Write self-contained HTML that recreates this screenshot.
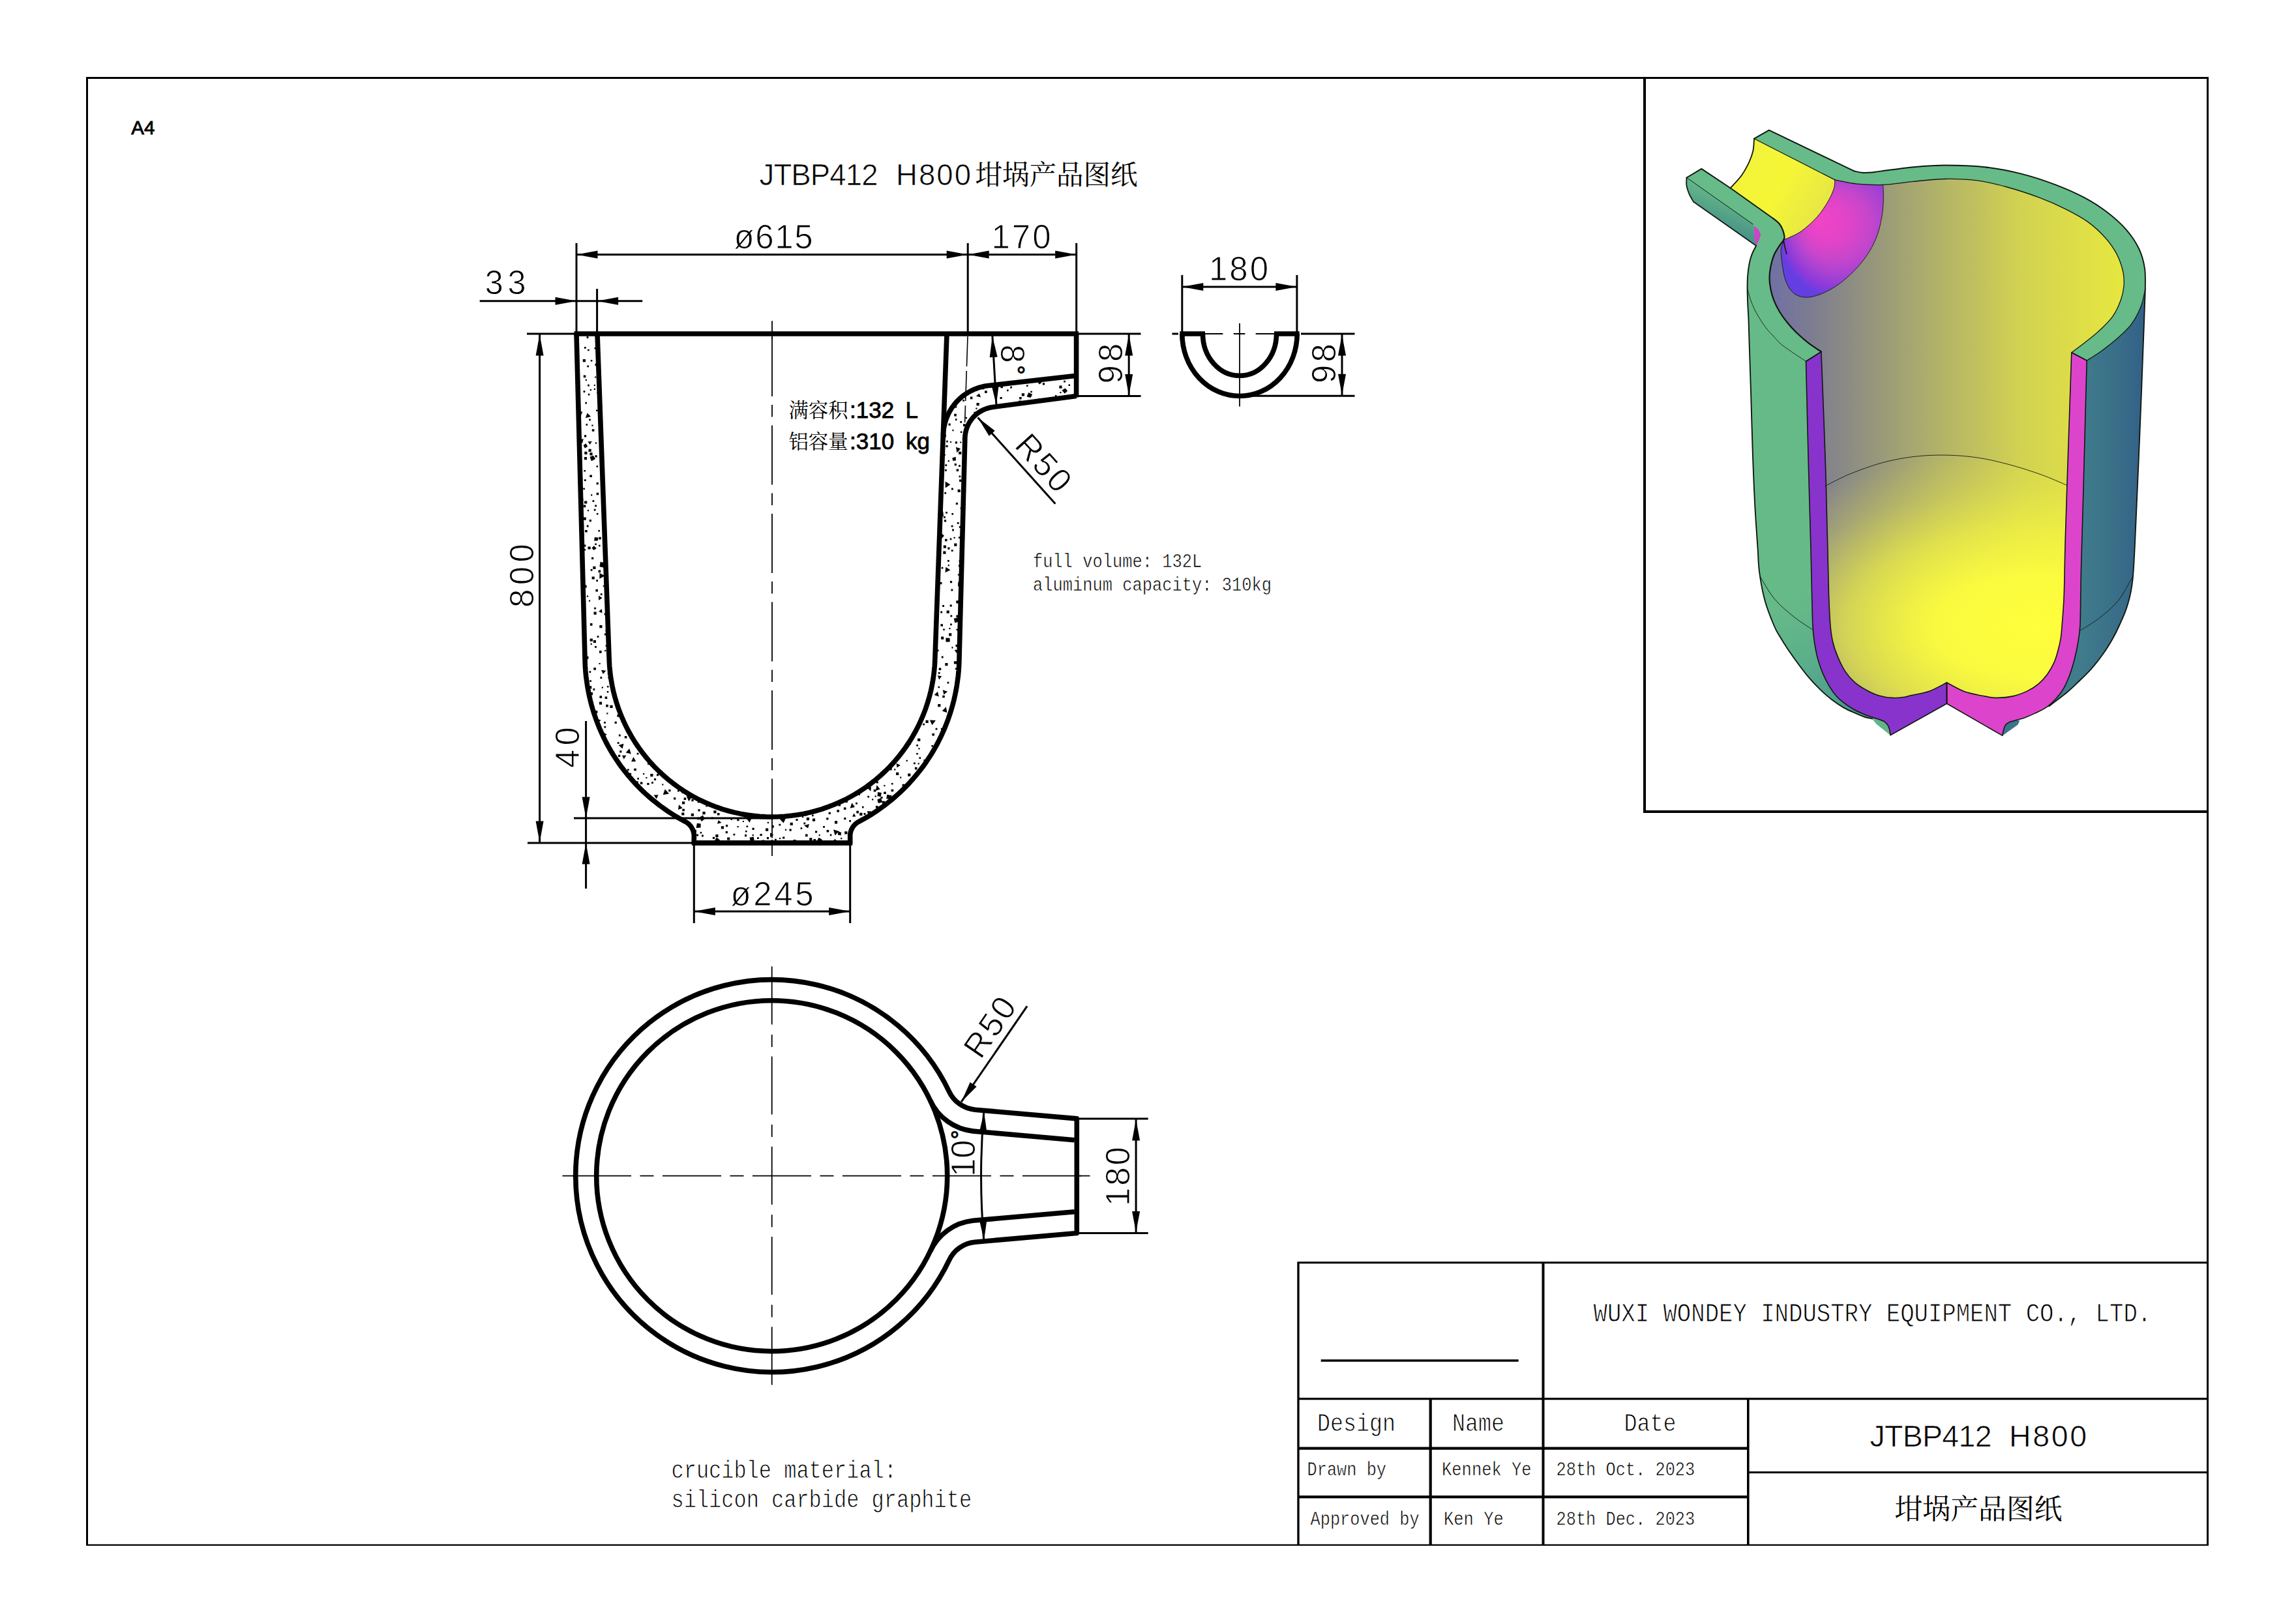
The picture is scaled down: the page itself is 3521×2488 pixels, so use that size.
<!DOCTYPE html>
<html lang="zh"><head><meta charset="utf-8"><title>JTBP412 H800 坩埚产品图纸</title>
<style>html,body{margin:0;padding:0;background:#fff}svg{display:block}text{fill:#000}</style></head>
<body><svg width="3521" height="2488" viewBox="0 0 3521 2488">
<rect width="3521" height="2488" fill="#fff"/>
<defs>
<linearGradient id="gCav" gradientUnits="userSpaceOnUse" x1="2710" y1="0" x2="3250" y2="0"><stop offset="0" stop-color="#6f6fa6"/><stop offset="0.12" stop-color="#7c7c92"/><stop offset="0.3" stop-color="#96967c"/><stop offset="0.5" stop-color="#b4b468"/><stop offset="0.72" stop-color="#d2d252"/><stop offset="1" stop-color="#e6e640"/></linearGradient>
<radialGradient id="gBot" gradientUnits="userSpaceOnUse" cx="0" cy="0" r="1" gradientTransform="translate(3118 960) scale(520 270)"><stop offset="0" stop-color="#ffff3c"/><stop offset="0.3" stop-color="#fcfc3e" stop-opacity="0.95"/><stop offset="0.55" stop-color="#f6f640" stop-opacity="0.68"/><stop offset="0.8" stop-color="#f0f044" stop-opacity="0.25"/><stop offset="1" stop-color="#eeee44" stop-opacity="0"/></radialGradient>
<linearGradient id="gBlue" gradientUnits="userSpaceOnUse" x1="3190" y1="0" x2="3290" y2="0"><stop offset="0" stop-color="#407c8c"/><stop offset="0.5" stop-color="#3a7088"/><stop offset="1" stop-color="#336088"/></linearGradient>
<radialGradient id="gMag" gradientUnits="userSpaceOnUse" cx="2838" cy="352" r="112" fx="2788" fy="337"><stop offset="0" stop-color="#f244c6"/><stop offset="0.3" stop-color="#e044c8"/><stop offset="0.5" stop-color="#c446cc"/><stop offset="0.68" stop-color="#a642d2"/><stop offset="0.85" stop-color="#8a3adc"/><stop offset="1" stop-color="#643ee0"/></radialGradient>
<linearGradient id="gSp" gradientUnits="userSpaceOnUse" x1="2640" y1="290" x2="2620" y2="340"><stop offset="0" stop-color="#66bb88"/><stop offset="1" stop-color="#4a9488"/></linearGradient>
<linearGradient id="gYel" gradientUnits="userSpaceOnUse" x1="2680" y1="230" x2="2800" y2="300"><stop offset="0" stop-color="#f2f23c"/><stop offset="0.5" stop-color="#f6f636"/><stop offset="1" stop-color="#e8e844"/></linearGradient>
<linearGradient id="gGL" gradientUnits="userSpaceOnUse" x1="2720" y1="930" x2="2800" y2="1110"><stop offset="0" stop-color="#66ba88"/><stop offset="0.45" stop-color="#5cb08a"/><stop offset="1" stop-color="#4a988e"/></linearGradient>
</defs>
<g stroke="none">
<path d="M3200.2 553 C3203.7 550.8 3213.6 545 3221.2 539.5 C3228.8 534 3238.1 527 3245.9 520.1 C3253.7 513.2 3261.9 506.1 3268.1 497.9 C3274.3 489.7 3279.3 479.8 3282.9 470.8 C3286.5 461.8 3288.7 448.2 3289.8 443.7 L3287.8 500 C3286.8 525 3284.1 600 3282 650 C3279.9 700 3277.4 760.1 3275.5 800 C3273.6 839.9 3272.8 867.6 3270.5 889.3 C3268.2 911 3265.5 918.2 3262 930 C3258.5 941.8 3253.4 951.7 3249.7 960 C3246 968.3 3243.9 972.5 3239.8 979.7 C3235.7 986.9 3230.6 995.4 3225 1003.2 C3219.4 1011 3213.1 1019.2 3206.5 1026.6 C3199.9 1034 3191.7 1041.6 3185.5 1047.6 C3179.3 1053.6 3174.8 1057.9 3169.5 1062.4 C3164.2 1066.9 3158 1071.2 3153.5 1074.7 C3149 1078.2 3144.2 1081.9 3142.4 1083.3 L3138.7 1084.6 C3141.2 1082.3 3149.2 1075.7 3153.5 1071 C3157.8 1066.3 3161.1 1062.4 3164.6 1056.2 C3168.1 1050 3171.5 1041.8 3174.4 1034 C3177.3 1026.2 3179.7 1017.5 3181.8 1009.3 C3183.9 1001.1 3185.5 992.9 3186.8 984.7 C3188.2 976.5 3189.2 971.8 3189.9 960 C3190.6 948.2 3190.5 929 3190.8 914 C3191.1 899 3190.9 897.3 3191.6 870 C3192.3 842.7 3193.6 802.8 3195 750 C3196.4 697.2 3199.3 585.8 3200.2 553Z" fill="url(#gBlue)"/>
<path d="M2693.2 376.9 C2692.2 378.9 2688.8 384.7 2687 389.2 C2685.2 393.7 2683.8 398.4 2682.7 404 C2681.6 409.6 2680.7 416.3 2680.2 422.5 C2679.7 428.7 2679.6 433.8 2679.6 441 C2679.6 448.2 2679.9 457.5 2680.2 465.7 C2680.5 473.9 2681.1 479.6 2681.5 490.3 C2681.9 501 2682.1 511.7 2682.7 530 C2683.3 548.3 2684.1 571.7 2685 600 C2685.9 628.3 2686.9 670 2688 700 C2689.1 730 2690.2 756.7 2691.5 780 C2692.8 803.3 2694.4 823.8 2695.5 840 C2696.6 856.2 2696.2 863.4 2698 877 C2699.8 890.6 2702.8 907.6 2706.6 921.4 C2710.4 935.2 2716.9 950.9 2720.7 960 C2724.5 969.1 2725.8 970 2729.3 976 C2732.8 982 2737.2 989 2741.7 995.8 C2746.2 1002.6 2751.2 1009.5 2756.5 1016.7 C2761.8 1023.9 2767.9 1032.1 2773.7 1038.9 C2779.4 1045.7 2785 1051.6 2791 1057.4 C2797 1063.2 2803.3 1068.8 2809.5 1073.5 C2815.7 1078.2 2821.8 1082.3 2828 1085.8 C2834.2 1089.3 2841.2 1092 2846.5 1094.4 C2851.8 1096.8 2856 1098.7 2860.1 1100 C2864.2 1101.3 2869.3 1102.1 2871.2 1102.5 L2882.3 1103.7 C2880.7 1103.2 2876.3 1101.9 2872.4 1100.6 C2868.5 1099.3 2863.7 1097.8 2858.8 1095.7 C2853.9 1093.7 2847.9 1091.2 2842.8 1088.3 C2837.7 1085.4 2832.5 1081.9 2828 1078.4 C2823.5 1074.9 2819.6 1071.8 2815.7 1067.3 C2811.8 1062.8 2808.1 1057.3 2804.6 1051.3 C2801.1 1045.3 2797.6 1038.5 2794.7 1031.5 C2791.8 1024.5 2789.4 1017.1 2787.3 1009.3 C2785.2 1001.5 2783.6 992.9 2782.4 984.7 C2781.2 976.5 2780.5 971.8 2779.9 960 C2779.3 948.2 2779.1 934 2778.6 914 C2778.1 894 2777.8 875.7 2776.9 840 C2776 804.3 2774.2 747.6 2773 700 C2771.8 652.4 2770.1 578.6 2769.5 554.3 L2769.5 554.3 C2763.6 550.2 2742.1 536.4 2733.9 530 C2725.7 523.6 2724.6 520.8 2720.3 516.2 C2716 511.7 2712.3 508.4 2708 502.7 C2703.7 496.9 2698.1 488.3 2694.4 481.7 C2690.7 475.1 2688.2 469.4 2685.8 463.2 C2683.4 457 2681.2 448.4 2680.2 444.7 C2679.2 441 2679.7 441.6 2679.6 441Z" fill="url(#gGL)"/>
<path d="M2736.3 365.8 C2735.1 367.6 2731.6 372.6 2728.9 376.9 C2726.2 381.2 2722.6 386.4 2720.3 391.7 C2718.1 397 2716.5 403.1 2715.4 408.9 C2714.3 414.6 2713.5 420.4 2713.5 426.2 C2713.5 432 2714.3 437.8 2715.4 443.5 C2716.5 449.2 2718.1 454.9 2720.3 460.7 C2722.6 466.4 2725.4 472.2 2728.9 478 C2732.4 483.8 2736.8 489.8 2741.3 495.3 C2745.8 500.9 2750.8 506.2 2756.1 511.3 C2761.4 516.4 2767.2 521.4 2773.3 526.1 C2779.4 530.8 2789.6 537.3 2792.9 539.5 L2799.1 745.4 L2802 800 L3167.5 800 L3169.4 744.2 L3176.8 540.7 C3180.1 538.2 3189.5 531.5 3196.5 526 C3203.5 520.5 3211.5 514.5 3218.7 507.8 C3225.9 501.1 3234.1 493.4 3239.7 485.6 C3245.2 477.8 3249.1 468.7 3252 460.9 C3254.9 453.1 3256.4 446.1 3257 438.7 C3257.6 431.3 3257.5 424.7 3255.7 416.5 C3253.8 408.3 3250.4 398 3245.9 389.4 C3241.4 380.8 3236 372.9 3228.6 364.7 C3221.2 356.5 3211.8 347.5 3201.5 340.1 C3191.2 332.7 3179.2 326.5 3166.9 320.3 C3154.6 314.1 3142.3 308.7 3127.5 303.1 C3112.7 297.6 3093.7 291.3 3078.1 287 C3062.5 282.7 3049.4 279.3 3033.7 277.2 C3018 275.1 3000.5 274.3 2984 274.5 C2967.5 274.7 2950.7 276.9 2934.7 278.4 C2918.7 279.9 2902.2 282.7 2887.8 283.3 C2873.4 283.9 2860.6 283.3 2848.3 282.1 C2836 280.9 2819.6 276.9 2813.8 275.9 L2736.3 365.8Z" fill="url(#gCav)"/>
<path d="M2799.1 745.4 C2805.5 742.3 2822.7 732.8 2837.3 726.9 C2851.9 721 2870.2 714.1 2886.7 709.7 C2903.1 705.3 2919.6 702.2 2936 700.3 C2952.4 698.4 2968.9 697.8 2985.3 698.1 C3001.8 698.4 3018.2 699.8 3034.7 702.3 C3051.1 704.8 3068.1 709.1 3084 713.4 C3099.9 717.7 3115.8 722.9 3130 728 C3144.2 733.1 3162.8 741.5 3169.4 744.2 L3166.9 840 C3166.6 852.3 3166 894 3165.2 914 C3164.4 934 3162.9 949.2 3162.1 960 C3161.3 970.8 3161.3 972.1 3160.3 978.5 C3159.3 984.9 3157.7 991.8 3155.9 998.2 C3154.2 1004.6 3152.5 1010.7 3149.8 1016.7 C3147.1 1022.7 3143.8 1028.7 3139.9 1034 C3136 1039.3 3131.4 1044.5 3126.3 1048.8 C3121.2 1053.1 3115.7 1056.7 3109.1 1059.9 C3102.5 1063.1 3094.7 1066.2 3086.9 1067.9 C3079.1 1069.7 3070 1070.5 3062.2 1070.4 C3054.4 1070.3 3048.4 1069 3040 1067.3 C3031.6 1065.6 3021.1 1063.9 3012 1060.5 C3002.9 1057.1 2989.9 1049.2 2985.5 1047 L2958 1060.5 C2953.3 1061.5 2936.2 1065.2 2930 1066.7 C2923.8 1068.2 2925.2 1068.6 2920.5 1069.2 C2915.8 1069.8 2908.4 1070.7 2902 1070.4 C2895.6 1070.1 2888.9 1069.2 2882.3 1067.3 C2875.7 1065.3 2868.9 1062.2 2862.5 1058.7 C2856.1 1055.2 2849.6 1051.2 2844 1046.3 C2838.4 1041.4 2833.5 1035.7 2829.2 1029.1 C2824.9 1022.5 2821.2 1014.3 2818.1 1006.9 C2815 999.5 2812.5 992.5 2810.7 984.7 C2808.8 976.9 2808 971.8 2807 960 C2806 948.2 2805.3 934 2804.6 914 C2803.9 894 2803.1 852.3 2802.8 840Z" fill="url(#gCav)"/>
<path d="M2799.1 745.4 C2805.5 742.3 2822.7 732.8 2837.3 726.9 C2851.9 721 2870.2 714.1 2886.7 709.7 C2903.1 705.3 2919.6 702.2 2936 700.3 C2952.4 698.4 2968.9 697.8 2985.3 698.1 C3001.8 698.4 3018.2 699.8 3034.7 702.3 C3051.1 704.8 3068.1 709.1 3084 713.4 C3099.9 717.7 3115.8 722.9 3130 728 C3144.2 733.1 3162.8 741.5 3169.4 744.2 L3166.9 840 C3166.6 852.3 3166 894 3165.2 914 C3164.4 934 3162.9 949.2 3162.1 960 C3161.3 970.8 3161.3 972.1 3160.3 978.5 C3159.3 984.9 3157.7 991.8 3155.9 998.2 C3154.2 1004.6 3152.5 1010.7 3149.8 1016.7 C3147.1 1022.7 3143.8 1028.7 3139.9 1034 C3136 1039.3 3131.4 1044.5 3126.3 1048.8 C3121.2 1053.1 3115.7 1056.7 3109.1 1059.9 C3102.5 1063.1 3094.7 1066.2 3086.9 1067.9 C3079.1 1069.7 3070 1070.5 3062.2 1070.4 C3054.4 1070.3 3048.4 1069 3040 1067.3 C3031.6 1065.6 3021.1 1063.9 3012 1060.5 C3002.9 1057.1 2989.9 1049.2 2985.5 1047 L2958 1060.5 C2953.3 1061.5 2936.2 1065.2 2930 1066.7 C2923.8 1068.2 2925.2 1068.6 2920.5 1069.2 C2915.8 1069.8 2908.4 1070.7 2902 1070.4 C2895.6 1070.1 2888.9 1069.2 2882.3 1067.3 C2875.7 1065.3 2868.9 1062.2 2862.5 1058.7 C2856.1 1055.2 2849.6 1051.2 2844 1046.3 C2838.4 1041.4 2833.5 1035.7 2829.2 1029.1 C2824.9 1022.5 2821.2 1014.3 2818.1 1006.9 C2815 999.5 2812.5 992.5 2810.7 984.7 C2808.8 976.9 2808 971.8 2807 960 C2806 948.2 2805.3 934 2804.6 914 C2803.9 894 2803.1 852.3 2802.8 840Z" fill="url(#gBot)"/>
<path d="M2843.4 262.4 C2845.4 262.8 2851.3 264.4 2855.7 264.8 C2860.1 265.2 2865.1 264.9 2870 264.5 C2874.9 264.1 2874.5 263.8 2885.3 262.4 C2896.1 261 2918.2 257.7 2934.7 256.2 C2951.1 254.7 2965.8 253.5 2984 253.5 C3002.2 253.5 3024.6 254.1 3043.6 256.2 C3062.6 258.3 3079.8 261.6 3097.9 266.1 C3116 270.6 3135.7 277.1 3152.1 283.3 C3168.5 289.5 3183.3 296.1 3196.5 303.1 C3209.7 310.1 3220.4 317.1 3231.1 325.3 C3241.8 333.5 3252.5 342.9 3260.7 352.4 C3268.9 361.8 3275.7 372.1 3280.4 382 C3285.1 391.9 3287.4 401.3 3289 411.6 C3290.6 421.9 3289.7 438.4 3289.8 443.7 L3282.9 470.8 C3280.4 475.3 3274.3 489.7 3268.1 497.9 C3261.9 506.1 3253.7 513.2 3245.9 520.1 C3238.1 527 3228.8 534 3221.2 539.5 C3213.6 545 3203.7 550.8 3200.2 553 L3176.8 540.7 C3180.1 538.2 3189.5 531.5 3196.5 526 C3203.5 520.5 3211.5 514.5 3218.7 507.8 C3225.9 501.1 3234.1 493.4 3239.7 485.6 C3245.2 477.8 3249.1 468.7 3252 460.9 C3254.9 453.1 3256.4 446.1 3257 438.7 C3257.6 431.3 3257.5 424.7 3255.7 416.5 C3253.8 408.3 3250.4 398 3245.9 389.4 C3241.4 380.8 3236 372.9 3228.6 364.7 C3221.2 356.5 3211.8 347.5 3201.5 340.1 C3191.2 332.7 3179.2 326.5 3166.9 320.3 C3154.6 314.1 3142.3 308.7 3127.5 303.1 C3112.7 297.6 3093.7 291.3 3078.1 287 C3062.5 282.7 3049.4 279.3 3033.7 277.2 C3018 275.1 3000.5 274.3 2984 274.5 C2967.5 274.7 2950.7 276.9 2934.7 278.4 C2918.7 279.9 2902.2 282.7 2887.8 283.3 C2873.4 283.9 2860.6 283.3 2848.3 282.1 C2836 280.9 2819.6 276.9 2813.8 275.9Z" fill="#66bb88"/>
<path d="M2679.6 441 C2679.7 441.6 2679.2 441 2680.2 444.7 C2681.2 448.4 2683.4 457 2685.8 463.2 C2688.2 469.4 2690.7 475.1 2694.4 481.7 C2698.1 488.3 2703.7 496.9 2708 502.7 C2712.3 508.4 2716 511.7 2720.3 516.2 C2724.6 520.8 2725.7 523.6 2733.9 530 C2742.1 536.4 2763.6 550.2 2769.5 554.3 L2792.9 539.5 C2789.6 537.3 2779.4 530.8 2773.3 526.1 C2767.2 521.4 2761.4 516.4 2756.1 511.3 C2750.8 506.2 2745.8 500.9 2741.3 495.3 C2736.8 489.8 2732.4 483.8 2728.9 478 C2725.4 472.2 2722.6 466.4 2720.3 460.7 C2718.1 454.9 2716.5 449.2 2715.4 443.5 C2714.3 437.8 2713.5 432 2713.5 426.2 C2713.5 420.4 2714.3 414.6 2715.4 408.9 C2716.5 403.1 2718.1 397 2720.3 391.7 C2722.6 386.4 2726.2 381.2 2728.9 376.9 C2731.6 372.6 2735.5 369.8 2736.3 365.8 C2737.2 361.8 2735.3 356.8 2734 353 C2732.7 349.2 2731 346 2728.5 343 C2726 340 2720.7 336.3 2719.1 335 L2693.2 376.9 L2687 389.2 C2686.3 391.7 2683.8 398.4 2682.7 404 C2681.6 409.6 2680.7 416.3 2680.2 422.5 C2679.7 428.7 2679.7 437.9 2679.6 441Z" fill="#66bb88"/>
<path d="M2769.5 554.3 C2770.1 578.6 2771.8 652.4 2773 700 C2774.2 747.6 2776 804.3 2776.9 840 C2777.8 875.7 2778.1 894 2778.6 914 C2779.1 934 2779.3 948.2 2779.9 960 C2780.5 971.8 2781.2 976.5 2782.4 984.7 C2783.6 992.9 2785.2 1001.5 2787.3 1009.3 C2789.4 1017.1 2791.8 1024.5 2794.7 1031.5 C2797.6 1038.5 2801.1 1045.3 2804.6 1051.3 C2808.1 1057.3 2811.8 1062.8 2815.7 1067.3 C2819.6 1071.8 2823.5 1074.9 2828 1078.4 C2832.5 1081.9 2837.7 1085.4 2842.8 1088.3 C2847.9 1091.2 2853.9 1093.7 2858.8 1095.7 C2863.7 1097.8 2868.5 1099.3 2872.4 1100.6 C2876.3 1101.9 2880.7 1103.2 2882.3 1103.7 L2889.7 1106.8 C2890.5 1107.6 2893.3 1109.7 2894.6 1111.7 C2895.9 1113.8 2897 1116.4 2897.7 1119.1 C2898.4 1121.8 2898.7 1126.3 2898.9 1127.7 L2985.5 1079.3 L2985.5 1047 C2980.9 1049.2 2967.2 1057.2 2958 1060.5 C2948.8 1063.8 2936.2 1065.2 2930 1066.7 C2923.8 1068.2 2925.2 1068.6 2920.5 1069.2 C2915.8 1069.8 2908.4 1070.7 2902 1070.4 C2895.6 1070.1 2888.9 1069.2 2882.3 1067.3 C2875.7 1065.3 2868.9 1062.2 2862.5 1058.7 C2856.1 1055.2 2849.6 1051.2 2844 1046.3 C2838.4 1041.4 2833.5 1035.7 2829.2 1029.1 C2824.9 1022.5 2821.2 1014.3 2818.1 1006.9 C2815 999.5 2812.5 992.5 2810.7 984.7 C2808.8 976.9 2808 971.8 2807 960 C2806 948.2 2805.3 934 2804.6 914 C2803.9 894 2803.7 875.7 2802.8 840 C2801.9 804.3 2800.7 750.1 2799 700 C2797.3 649.9 2793.9 566.2 2792.9 539.5Z" fill="#8833cc"/>
<path d="M3200.2 553 C3199.3 585.8 3196.4 697.2 3195 750 C3193.6 802.8 3192.3 842.7 3191.6 870 C3190.9 897.3 3191.1 899 3190.8 914 C3190.5 929 3190.6 948.2 3189.9 960 C3189.2 971.8 3188.2 976.5 3186.8 984.7 C3185.5 992.9 3183.9 1001.1 3181.8 1009.3 C3179.7 1017.5 3177.3 1026.2 3174.4 1034 C3171.5 1041.8 3168.1 1050 3164.6 1056.2 C3161.1 1062.4 3157.8 1066.3 3153.5 1071 C3149.2 1075.7 3144.2 1080.7 3138.7 1084.6 C3133.1 1088.5 3126 1091.6 3120.2 1094.4 C3114.4 1097.2 3108.6 1099.6 3104.1 1101.2 C3099.6 1102.8 3094.8 1103.8 3093 1104.3 L3081.9 1107.4 C3080.9 1108.1 3077.3 1109.8 3075.8 1111.7 C3074.3 1113.7 3073.5 1116.3 3072.7 1119.1 C3071.9 1121.9 3071.1 1126.9 3070.8 1128.4 L2985.5 1079.3 L2985.5 1047 C2989.9 1049.2 3002.9 1057.1 3012 1060.5 C3021.1 1063.9 3031.6 1065.6 3040 1067.3 C3048.4 1069 3054.4 1070.3 3062.2 1070.4 C3070 1070.5 3079.1 1069.7 3086.9 1067.9 C3094.7 1066.2 3102.5 1063.1 3109.1 1059.9 C3115.7 1056.7 3121.2 1053.1 3126.3 1048.8 C3131.4 1044.5 3136 1039.3 3139.9 1034 C3143.8 1028.7 3147.1 1022.7 3149.8 1016.7 C3152.5 1010.7 3154.2 1004.6 3155.9 998.2 C3157.7 991.8 3159.3 984.9 3160.3 978.5 C3161.3 972.1 3161.3 970.8 3162.1 960 C3162.9 949.2 3164.4 934 3165.2 914 C3166 894 3166.1 869 3166.9 840 C3167.7 811 3168.3 789.9 3170 740 C3171.7 690.1 3175.7 573.9 3176.8 540.7Z" fill="#dd44cc"/>
<path d="M2871.2 1102.5 L2877.3 1110.5 L2898.9 1127.7 L2898.9 1127.7 C2898.7 1126.3 2898.4 1121.8 2897.7 1119.1 C2897 1116.4 2895.9 1113.8 2894.6 1111.7 C2893.3 1109.7 2891.8 1108.1 2889.7 1106.8 C2887.6 1105.5 2883.5 1104.2 2882.3 1103.7Z" fill="#62b48a"/>
<path d="M3093 1104.3 L3097.4 1105.5 L3094.3 1111.7 L3070.8 1128.4 L3070.8 1128.4 C3071.1 1126.9 3071.9 1121.9 3072.7 1119.1 C3073.5 1116.3 3074.3 1113.7 3075.8 1111.7 C3077.3 1109.8 3079 1108.6 3081.9 1107.4 C3084.8 1106.2 3091.2 1104.8 3093 1104.3Z" fill="#3a748a"/>
<path d="M2813.8 275.9 L2848.3 282.1 L2887.8 283.3 C2887.9 287.4 2888.6 299.8 2888.3 308 C2888 316.2 2887.4 324 2885.8 332.7 C2884.3 341.3 2882.3 351 2879.2 359.8 C2876 368.6 2872.2 377.1 2866.8 385.7 C2861.5 394.3 2854.7 403.4 2847.1 411.6 C2839.5 419.8 2829.2 429 2821.2 435 C2813.2 441.1 2805.6 444.9 2799 448.1 C2792.4 451.4 2787.1 453.2 2781.7 454.5 C2776.4 455.8 2771.5 456.4 2766.9 456 C2762.3 455.6 2757.8 454.2 2754.1 452.1 C2750.4 449.9 2747.4 447 2744.7 443.2 C2742 439.3 2739.6 433.7 2737.8 428.9 C2736.1 424 2735.4 419.4 2734.4 414.1 C2733.4 408.7 2732.4 402.1 2731.9 396.8 C2731.4 391.5 2730.7 387 2731.4 382 C2732.2 377 2735.5 369.3 2736.3 366.7 L2760 300Z" fill="url(#gMag)"/>
<path d="M2690.1 212.7 C2689.8 215.9 2689.6 225.7 2688.3 231.8 C2686.9 237.9 2685 242.9 2682.1 249.1 C2679.2 255.2 2675.7 262.2 2671 268.8 C2666.3 275.4 2656.6 285.2 2653.7 288.5 L2719.1 335 L2728.5 343 C2729.4 344.7 2732.7 349.2 2734 353 C2735.3 356.8 2735.9 363.7 2736.3 365.8 L2737.3 367.2 C2741.4 365.1 2753.8 360.6 2762 354.9 C2770.2 349.1 2779.7 340.5 2786.7 332.7 C2793.7 324.9 2799.6 315.4 2803.9 308 C2808.3 300.6 2810.9 293.6 2812.6 288.3 C2814.2 282.9 2813.6 278 2813.8 275.9 L2690.1 212.7Z" fill="url(#gYel)"/>
<path d="M2690.1 212.7 L2712.9 199.7 L2843.4 262.4 L2862 266 L2848.3 282.1 L2813.8 275.9Z" fill="#66bb88"/>
<path d="M2586.5 272.5 C2586.5 274.6 2585.8 280.5 2586.5 284.8 C2587.2 289.1 2589.1 294.3 2590.8 298.4 C2592.6 302.5 2596 307.6 2597 309.5 L2693.2 376.9 L2697 372 L2692 344 L2688.3 342Z" fill="url(#gSp)"/>
<path d="M2586.5 272.5 L2609.3 258.9 L2653.7 288.5 L2719.1 335 L2728.5 343 C2729.4 344.7 2732.7 349.2 2734 353 C2735.3 356.8 2737.2 361.8 2736.3 365.8 C2735.5 369.8 2731.6 372.6 2728.9 376.9 C2726.2 381.2 2721.7 389.2 2720.3 391.7 L2682.7 404 L2687 389.2 C2688 387.1 2692.6 381.8 2693.2 376.9 C2693.8 372 2691.3 365.5 2690.5 360 C2689.7 354.5 2688.7 346.7 2688.3 344Z" fill="#66bb88"/>
<path d="M2689.3 345.9 C2690.4 346.9 2694.4 349.7 2696.3 352.1 C2698.1 354.4 2699.7 358.7 2700.4 360.1 L2696.9 369.9 L2693 378 L2690.7 365 L2689.3 345.9Z" fill="#cc44cc"/>
</g>
<g fill="none" stroke="#101810" stroke-linejoin="round" stroke-linecap="round">
<path d="M2693.2 376.9 C2692.2 378.9 2688.8 384.7 2687 389.2 C2685.2 393.7 2683.8 398.4 2682.7 404 C2681.6 409.6 2680.7 416.3 2680.2 422.5 C2679.7 428.7 2679.6 433.8 2679.6 441 C2679.6 448.2 2679.9 457.5 2680.2 465.7 C2680.5 473.9 2681.1 479.6 2681.5 490.3 C2681.9 501 2682.1 511.7 2682.7 530 C2683.3 548.3 2684.1 571.7 2685 600 C2685.9 628.3 2686.9 670 2688 700 C2689.1 730 2690.2 756.7 2691.5 780 C2692.8 803.3 2694.4 823.8 2695.5 840 C2696.6 856.2 2696.2 863.4 2698 877 C2699.8 890.6 2702.8 907.6 2706.6 921.4 C2710.4 935.2 2716.9 950.9 2720.7 960 C2724.5 969.1 2725.8 970 2729.3 976 C2732.8 982 2737.2 989 2741.7 995.8 C2746.2 1002.6 2751.2 1009.5 2756.5 1016.7 C2761.8 1023.9 2767.9 1032.1 2773.7 1038.9 C2779.4 1045.7 2785 1051.6 2791 1057.4 C2797 1063.2 2803.3 1068.8 2809.5 1073.5 C2815.7 1078.2 2821.8 1082.3 2828 1085.8 C2834.2 1089.3 2841.2 1092 2846.5 1094.4 C2851.8 1096.8 2856 1098.7 2860.1 1100 C2864.2 1101.3 2869.3 1102.1 2871.2 1102.5" stroke-width="1.9"/>
<path d="M3289.8 443.7 C3289.5 453.1 3289.1 465.6 3287.8 500 C3286.5 534.4 3284.1 600 3282 650 C3279.9 700 3277.4 760.1 3275.5 800 C3273.6 839.9 3272.8 867.6 3270.5 889.3 C3268.2 911 3265.5 918.2 3262 930 C3258.5 941.8 3253.4 951.7 3249.7 960 C3246 968.3 3243.9 972.5 3239.8 979.7 C3235.7 986.9 3230.6 995.4 3225 1003.2 C3219.4 1011 3213.1 1019.2 3206.5 1026.6 C3199.9 1034 3191.7 1041.6 3185.5 1047.6 C3179.3 1053.6 3174.8 1057.9 3169.5 1062.4 C3164.2 1066.9 3158 1071.2 3153.5 1074.7 C3149 1078.2 3144.2 1081.9 3142.4 1083.3" stroke-width="1.9"/>
<path d="M2843.4 262.4 C2845.4 262.8 2851.3 264.4 2855.7 264.8 C2860.1 265.2 2865.1 264.9 2870 264.5 C2874.9 264.1 2874.5 263.8 2885.3 262.4 C2896.1 261 2918.2 257.7 2934.7 256.2 C2951.1 254.7 2965.8 253.5 2984 253.5 C3002.2 253.5 3024.6 254.1 3043.6 256.2 C3062.6 258.3 3079.8 261.6 3097.9 266.1 C3116 270.6 3135.7 277.1 3152.1 283.3 C3168.5 289.5 3183.3 296.1 3196.5 303.1 C3209.7 310.1 3220.4 317.1 3231.1 325.3 C3241.8 333.5 3252.5 342.9 3260.7 352.4 C3268.9 361.8 3275.7 372.1 3280.4 382 C3285.1 391.9 3287.4 401.3 3289 411.6 C3290.6 421.9 3289.7 438.4 3289.8 443.7" stroke-width="1.9"/>
<path d="M2813.8 275.9 C2819.6 276.9 2836 280.9 2848.3 282.1 C2860.6 283.3 2873.4 283.9 2887.8 283.3 C2902.2 282.7 2918.7 279.9 2934.7 278.4 C2950.7 276.9 2967.5 274.7 2984 274.5 C3000.5 274.3 3018 275.1 3033.7 277.2 C3049.4 279.3 3062.5 282.7 3078.1 287 C3093.7 291.3 3112.7 297.6 3127.5 303.1 C3142.3 308.7 3154.6 314.1 3166.9 320.3 C3179.2 326.5 3191.2 332.7 3201.5 340.1 C3211.8 347.5 3221.2 356.5 3228.6 364.7 C3236 372.9 3241.4 380.8 3245.9 389.4 C3250.4 398 3253.8 408.3 3255.7 416.5 C3257.5 424.7 3257.6 431.3 3257 438.7 C3256.4 446.1 3254.9 453.1 3252 460.9 C3249.1 468.7 3245.2 477.8 3239.7 485.6 C3234.1 493.4 3225.9 501.1 3218.7 507.8 C3211.5 514.5 3203.5 520.5 3196.5 526 C3189.5 531.5 3180.1 538.2 3176.8 540.7" stroke-width="1.3"/>
<path d="M3289.8 443.7 C3288.7 448.2 3286.5 461.8 3282.9 470.8 C3279.3 479.8 3274.3 489.7 3268.1 497.9 C3261.9 506.1 3253.7 513.2 3245.9 520.1 C3238.1 527 3228.8 534 3221.2 539.5 C3213.6 545 3203.7 550.8 3200.2 553" stroke-width="1.3"/>
<path d="M2719.1 335 C2720.7 336.3 2726 340 2728.5 343 C2731 346 2732.7 349.2 2734 353 C2735.3 356.8 2737.2 361.8 2736.3 365.8 C2735.5 369.8 2731.6 372.6 2728.9 376.9 C2726.2 381.2 2722.6 386.4 2720.3 391.7 C2718.1 397 2716.5 403.1 2715.4 408.9 C2714.3 414.6 2713.5 420.4 2713.5 426.2 C2713.5 432 2714.3 437.8 2715.4 443.5 C2716.5 449.2 2718.1 454.9 2720.3 460.7 C2722.6 466.4 2725.4 472.2 2728.9 478 C2732.4 483.8 2736.8 489.8 2741.3 495.3 C2745.8 500.9 2750.8 506.2 2756.1 511.3 C2761.4 516.4 2767.2 521.4 2773.3 526.1 C2779.4 530.8 2789.6 537.3 2792.9 539.5" stroke-width="2.2"/>
<path d="M2679.6 441 C2679.7 441.6 2679.2 441 2680.2 444.7 C2681.2 448.4 2683.4 457 2685.8 463.2 C2688.2 469.4 2690.7 475.1 2694.4 481.7 C2698.1 488.3 2703.7 496.9 2708 502.7 C2712.3 508.4 2716 511.7 2720.3 516.2 C2724.6 520.8 2725.7 523.6 2733.9 530 C2742.1 536.4 2763.6 550.2 2769.5 554.3" stroke-width="0.9"/>
<path d="M2769.5 554.3 C2770.1 578.6 2771.8 652.4 2773 700 C2774.2 747.6 2776 804.3 2776.9 840 C2777.8 875.7 2778.1 894 2778.6 914 C2779.1 934 2779.3 948.2 2779.9 960 C2780.5 971.8 2781.2 976.5 2782.4 984.7 C2783.6 992.9 2785.2 1001.5 2787.3 1009.3 C2789.4 1017.1 2791.8 1024.5 2794.7 1031.5 C2797.6 1038.5 2801.1 1045.3 2804.6 1051.3 C2808.1 1057.3 2811.8 1062.8 2815.7 1067.3 C2819.6 1071.8 2823.5 1074.9 2828 1078.4 C2832.5 1081.9 2837.7 1085.4 2842.8 1088.3 C2847.9 1091.2 2853.9 1093.7 2858.8 1095.7 C2863.7 1097.8 2868.5 1099.3 2872.4 1100.6 C2876.3 1101.9 2880.7 1103.2 2882.3 1103.7 L2889.7 1106.8 C2890.5 1107.6 2893.3 1109.7 2894.6 1111.7 C2895.9 1113.8 2897 1116.4 2897.7 1119.1 C2898.4 1121.8 2898.7 1126.3 2898.9 1127.7 L2985.5 1079.3 L2985.5 1047 C2980.9 1049.2 2967.2 1057.2 2958 1060.5 C2948.8 1063.8 2936.2 1065.2 2930 1066.7 C2923.8 1068.2 2925.2 1068.6 2920.5 1069.2 C2915.8 1069.8 2908.4 1070.7 2902 1070.4 C2895.6 1070.1 2888.9 1069.2 2882.3 1067.3 C2875.7 1065.3 2868.9 1062.2 2862.5 1058.7 C2856.1 1055.2 2849.6 1051.2 2844 1046.3 C2838.4 1041.4 2833.5 1035.7 2829.2 1029.1 C2824.9 1022.5 2821.2 1014.3 2818.1 1006.9 C2815 999.5 2812.5 992.5 2810.7 984.7 C2808.8 976.9 2808 971.8 2807 960 C2806 948.2 2805.3 934 2804.6 914 C2803.9 894 2803.7 875.7 2802.8 840 C2801.9 804.3 2800.7 750.1 2799 700 C2797.3 649.9 2793.9 566.2 2792.9 539.5Z" stroke-width="1.6"/>
<path d="M3200.2 553 C3199.3 585.8 3196.4 697.2 3195 750 C3193.6 802.8 3192.3 842.7 3191.6 870 C3190.9 897.3 3191.1 899 3190.8 914 C3190.5 929 3190.6 948.2 3189.9 960 C3189.2 971.8 3188.2 976.5 3186.8 984.7 C3185.5 992.9 3183.9 1001.1 3181.8 1009.3 C3179.7 1017.5 3177.3 1026.2 3174.4 1034 C3171.5 1041.8 3168.1 1050 3164.6 1056.2 C3161.1 1062.4 3157.8 1066.3 3153.5 1071 C3149.2 1075.7 3144.2 1080.7 3138.7 1084.6 C3133.1 1088.5 3126 1091.6 3120.2 1094.4 C3114.4 1097.2 3108.6 1099.6 3104.1 1101.2 C3099.6 1102.8 3094.8 1103.8 3093 1104.3 L3081.9 1107.4 C3080.9 1108.1 3077.3 1109.8 3075.8 1111.7 C3074.3 1113.7 3073.5 1116.3 3072.7 1119.1 C3071.9 1121.9 3071.1 1126.9 3070.8 1128.4 L2985.5 1079.3 L2985.5 1047 C2989.9 1049.2 3002.9 1057.1 3012 1060.5 C3021.1 1063.9 3031.6 1065.6 3040 1067.3 C3048.4 1069 3054.4 1070.3 3062.2 1070.4 C3070 1070.5 3079.1 1069.7 3086.9 1067.9 C3094.7 1066.2 3102.5 1063.1 3109.1 1059.9 C3115.7 1056.7 3121.2 1053.1 3126.3 1048.8 C3131.4 1044.5 3136 1039.3 3139.9 1034 C3143.8 1028.7 3147.1 1022.7 3149.8 1016.7 C3152.5 1010.7 3154.2 1004.6 3155.9 998.2 C3157.7 991.8 3159.3 984.9 3160.3 978.5 C3161.3 972.1 3161.3 970.8 3162.1 960 C3162.9 949.2 3164.4 934 3165.2 914 C3166 894 3166.1 869 3166.9 840 C3167.7 811 3168.3 789.9 3170 740 C3171.7 690.1 3175.7 573.9 3176.8 540.7Z" stroke-width="1.6"/>
<path d="M2985.5 1079.3 L2985.5 1047" stroke-width="1.4"/>
<path d="M2769.5 554.3 L2792.9 539.5" stroke-width="1.4"/>
<path d="M3176.8 540.7 L3200.2 553" stroke-width="1.4"/>
<path d="M2799.1 745.4 C2805.5 742.3 2822.7 732.8 2837.3 726.9 C2851.9 721 2870.2 714.1 2886.7 709.7 C2903.1 705.3 2919.6 702.2 2936 700.3 C2952.4 698.4 2968.9 697.8 2985.3 698.1 C3001.8 698.4 3018.2 699.8 3034.7 702.3 C3051.1 704.8 3068.1 709.1 3084 713.4 C3099.9 717.7 3115.8 722.9 3130 728 C3144.2 733.1 3162.8 741.5 3169.4 744.2" stroke-width="0.9"/>
<path d="M2699.2 884.4 C2702.9 890.2 2712.8 908.7 2721.4 918.9 C2730 929.2 2741.3 938.3 2751 946.1 C2760.7 953.9 2774.6 962.5 2779.4 965.8" stroke-width="0.9"/>
<path d="M3190.4 967 C3195.1 964 3209.1 956.1 3218.7 948.5 C3228.4 940.9 3239.7 932.1 3248.3 921.4 C3257 910.7 3266.8 890.6 3270.5 884.4" stroke-width="0.9"/>
<path d="M2690.1 212.7 L2712.9 199.7 L2843.4 262.4" stroke-width="1.9"/>
<path d="M2690.1 212.7 L2813.8 275.9" stroke-width="1.2"/>
<path d="M2690.1 212.7 C2689.8 215.9 2689.6 225.7 2688.3 231.8 C2686.9 237.9 2685 242.9 2682.1 249.1 C2679.2 255.2 2675.7 262.2 2671 268.8 C2666.3 275.4 2656.6 285.2 2653.7 288.5" stroke-width="1.8"/>
<path d="M2586.5 272.5 L2609.3 258.9 L2653.7 288.5 L2719.1 335" stroke-width="1.9"/>
<path d="M2586.5 272.5 C2586.5 274.6 2585.8 280.5 2586.5 284.8 C2587.2 289.1 2589.1 294.3 2590.8 298.4 C2592.6 302.5 2596 307.6 2597 309.5 L2693.2 376.9" stroke-width="1.8"/>
<path d="M2586.5 272.5 L2688.3 344" stroke-width="1.0"/>
<path d="M2737.3 367.2 C2741.4 365.1 2753.8 360.6 2762 354.9 C2770.2 349.1 2779.7 340.5 2786.7 332.7 C2793.7 324.9 2799.6 315.4 2803.9 308 C2808.3 300.6 2810.9 293.6 2812.6 288.3 C2814.2 282.9 2813.6 278 2813.8 275.9" stroke-width="1.0"/>
<path d="M2887.8 283.3 C2887.9 287.4 2888.6 299.8 2888.3 308 C2888 316.2 2887.4 324 2885.8 332.7 C2884.3 341.3 2882.3 351 2879.2 359.8 C2876 368.6 2872.2 377.1 2866.8 385.7 C2861.5 394.3 2854.7 403.4 2847.1 411.6 C2839.5 419.8 2829.2 429 2821.2 435 C2813.2 441.1 2805.6 444.9 2799 448.1 C2792.4 451.4 2787.1 453.2 2781.7 454.5 C2776.4 455.8 2771.5 456.4 2766.9 456 C2762.3 455.6 2757.8 454.2 2754.1 452.1 C2750.4 449.9 2747.4 447 2744.7 443.2 C2742 439.3 2739.6 433.7 2737.8 428.9 C2736.1 424 2735.4 419.4 2734.4 414.1 C2733.4 408.7 2732.4 402.1 2731.9 396.8 C2731.4 391.5 2730.7 387 2731.4 382 C2732.2 377 2735.5 369.3 2736.3 366.7" stroke-width="0.9"/>
<path d="M2734.9 367.2 C2735.3 369.3 2736.5 375.8 2737.3 379.5 C2738.2 383.2 2739.4 387.8 2739.8 389.4" stroke-width="1.6"/>
</g>
<g fill="#000" stroke="none">
<path d="M948.6 1143.1L956.5 1140.7L954.6 1148.4ZM905.7 872.9h2.8v2.8h-2.8zM1470 823.3h2.8v2.8h-2.8zM1474.9 767.5h2.8v2.8h-2.8zM895.4 720.9h2.6v2.6h-2.6zM898.2 1006.8h4.2v4.2h-4.2zM1126.4 1290.4h4.2v4.2h-4.2zM1445.7 1058.3L1453.1 1060.8L1447.4 1065.4ZM1440.6 813.8h3.2v3.2h-3.2zM1446.2 964.4h2.6v2.6h-2.6zM946.4 1096.1h3.6v3.6h-3.6zM904.7 979.5h4.2v4.2h-4.2zM1353 1228.8h4.2v4.2h-4.2zM897.4 616.8h2.6v2.6h-2.6zM1360.4 1218.8L1367.7 1220.2L1366.1 1226.3L1359.1 1225.1ZM1045.4 1212.8h4.2v4.2h-4.2zM1591.7 611.5h3.2v3.2h-3.2zM1562.3 614.5h4.2v4.2h-4.2zM1487.8 608.6h3.6v3.6h-3.6zM896 667.3h3.2v3.2h-3.2zM1625.3 601h2.2v2.2h-2.2zM1595.5 583L1597.5 587.3L1593.5 589.6L1591.4 585.6ZM1449 826.7h3.6v3.6h-3.6zM1415.2 1109.8h2.8v2.8h-2.8zM890.7 788.4h2.8v2.8h-2.8zM1059.8 1247.7h4.2v4.2h-4.2zM1419.5 1104.8h4.2v4.2h-4.2zM1283.4 1242.2h3.6v3.6h-3.6zM1450.6 697.5L1445.8 702.2L1444.5 694.9ZM1460.4 659.1h2.2v2.2h-2.2zM1073.6 1275.9h2.6v2.6h-2.6zM912.5 557.7h3.6v3.6h-3.6zM1472.2 677.4h2.2v2.2h-2.2zM1438.5 1052.7h2.6v2.6h-2.6zM899.9 913.6h2.2v2.2h-2.2zM1438 1060.8L1439.8 1068.6L1432.7 1066ZM1105.8 1267.3h4.2v4.2h-4.2zM1477 650.3h3.6v3.6h-3.6zM1330.3 1220.8h2.8v2.8h-2.8zM910.8 595.8h2.2v2.2h-2.2zM1302.2 1258h2.8v2.8h-2.8zM1092.9 1283.8h3.2v3.2h-3.2zM1233 1266.3L1240.9 1263.9L1239.2 1270.6ZM891.9 804.9h3.2v3.2h-3.2zM1443.4 768h2.6v2.6h-2.6zM896.1 768.4h4.2v4.2h-4.2zM1034.1 1248.9h2.2v2.2h-2.2zM976.6 1154.7h2.8v2.8h-2.8zM907.4 651.5h2.2v2.2h-2.2zM1261 1287.9L1257.4 1293.5L1253.1 1289.6L1255.6 1284.8ZM1316.8 1217.9h2.2v2.2h-2.2zM1443.1 976.6h4.2v4.2h-4.2zM1459 748.6h2.8v2.8h-2.8zM922.7 1053.6h2.2v2.2h-2.2zM1392.2 1186.6h4.2v4.2h-4.2zM957.8 1129h3.6v3.6h-3.6zM1460.3 702.4L1465.7 700.7L1465.9 706.5L1461.2 706.7ZM1025.3 1211h3.2v3.2h-3.2zM1480.4 639.7h2.6v2.6h-2.6zM895.5 897.4h4.2v4.2h-4.2zM914.6 755.7h3.6v3.6h-3.6zM950.2 1151.3h3.2v3.2h-3.2zM912.5 698.3h3.2v3.2h-3.2zM911.9 823.9L917.6 824.7L916.6 829.4L911.1 829.5ZM914 628.5h2.6v2.6h-2.6zM1438.8 1030.9h2.8v2.8h-2.8zM924.8 897.9h2.2v2.2h-2.2zM900.9 782h2.2v2.2h-2.2zM1456.6 927.4h3.2v3.2h-3.2zM1007 1187h3.2v3.2h-3.2zM1332.4 1252L1329.7 1244.3L1336.3 1244.6ZM919.5 1067.3h3.6v3.6h-3.6zM1644.6 604.7h2.2v2.2h-2.2zM1496.3 625.6h2.2v2.2h-2.2zM926.6 940.4h3.2v3.2h-3.2zM1094.3 1243.2h4.2v4.2h-4.2zM903.2 642.6h2.6v2.6h-2.6zM887.3 675.3L894.8 673.1L893.2 679.7ZM1638.5 589.5h2.6v2.6h-2.6zM1451.2 675.8h2.6v2.6h-2.6zM1451.6 936.5h4.2v4.2h-4.2zM1294.2 1254.1h3.2v3.2h-3.2zM1211.6 1261.7h4.2v4.2h-4.2zM1355.3 1204.1h2.2v2.2h-2.2zM971.4 1160.9L975.2 1168L968.1 1168.2ZM1241.2 1285.3h4.2v4.2h-4.2zM1448.3 755h2.8v2.8h-2.8zM910.8 780.7h2.8v2.8h-2.8zM1355.2 1214.5h3.6v3.6h-3.6zM1447 792h2.8v2.8h-2.8zM1270.7 1245.8h3.2v3.2h-3.2zM1456.7 984.6L1450.6 984.7L1450.3 978.4L1456.5 978.7ZM1220.4 1255.9h3.2v3.2h-3.2zM1442.9 1116.7h2.8v2.8h-2.8zM1534.4 591.7h3.6v3.6h-3.6zM1445.2 1066.7h3.6v3.6h-3.6zM904.8 597h2.2v2.2h-2.2zM1113 1265h3.2v3.2h-3.2zM1375.6 1177.5L1374.5 1170.7L1380.9 1173.7ZM918 835.7h2.6v2.6h-2.6zM1383.6 1202.7h3.6v3.6h-3.6zM1449.4 712.3h2.8v2.8h-2.8zM1456.9 891.1h3.2v3.2h-3.2zM926.1 1107h2.8v2.8h-2.8zM919 998.1h3.6v3.6h-3.6zM1311 1237.9L1303.6 1239.8L1306.4 1231.4ZM1446.8 836.6h4.2v4.2h-4.2zM1458.7 805.7h2.8v2.8h-2.8zM1120.6 1255.9h2.2v2.2h-2.2zM1312.1 1230.9h2.8v2.8h-2.8zM977.3 1193.1h2.6v2.6h-2.6zM909.5 1056.1h2.8v2.8h-2.8zM1471 971.1L1465.7 965L1474 964ZM1445.2 928.1h2.8v2.8h-2.8zM1476.7 713.3h3.2v3.2h-3.2zM1574 590.4h2.6v2.6h-2.6zM904.9 956.1h3.6v3.6h-3.6zM1280 1259.2h4.2v4.2h-4.2zM901.1 535.7h2.6v2.6h-2.6zM1444.2 1037.3L1440.2 1042.5L1437.8 1035.9ZM942.6 1106.7h3.2v3.2h-3.2zM1200.1 1283.4h3.2v3.2h-3.2zM1466.3 921.3h4.2v4.2h-4.2zM894.3 748.4h2.6v2.6h-2.6zM914.5 714.2h2.6v2.6h-2.6zM1272.8 1279.6h2.6v2.6h-2.6zM1309.6 1247.5L1312.4 1252.4L1307 1252.8ZM1407.1 1132.7h4.2v4.2h-4.2zM1428.3 1143h2.6v2.6h-2.6zM1069.8 1228.9h2.6v2.6h-2.6zM1350.4 1221.9h3.2v3.2h-3.2zM931.8 1031.5h3.2v3.2h-3.2zM1318.2 1246.7h4.2v4.2h-4.2zM906.1 639.1L897.8 641.2L900.6 633.5ZM1453.7 706h2.2v2.2h-2.2zM1617.9 605.9h2.6v2.6h-2.6zM1466.4 943.4h4.2v4.2h-4.2zM1297.3 1289.3h3.2v3.2h-3.2zM1245.9 1255.5h4.2v4.2h-4.2zM1124.5 1278.8h2.8v2.8h-2.8zM1449.7 738.6L1457.4 743.2L1449.7 748.6ZM1295.2 1275.2h4.2v4.2h-4.2zM895.2 835.4h3.2v3.2h-3.2zM1470.1 713.2h2.8v2.8h-2.8zM1188 1286.7h2.8v2.8h-2.8zM1033.1 1223.3h3.2v3.2h-3.2zM928.5 966h2.6v2.6h-2.6zM1429.4 1112.3L1425.9 1104.4L1435 1105ZM1455.3 963h2.2v2.2h-2.2zM1289.1 1285h2.2v2.2h-2.2zM1319.1 1255.3h2.8v2.8h-2.8zM1153.6 1280h2.2v2.2h-2.2zM1453.7 866h2.2v2.2h-2.2zM1313.3 1243.8h3.6v3.6h-3.6zM894.6 682.9L898.6 680.3L901.2 684.9L896.9 687.6ZM1138.8 1258.9h2.2v2.2h-2.2zM1262.1 1266.9h2.8v2.8h-2.8zM1337.1 1225.3h2.2v2.2h-2.2zM907.8 658.2h3.6v3.6h-3.6zM911.5 532.9h2.6v2.6h-2.6zM883.5 511.5h2.6v2.6h-2.6zM1457.5 874.3L1449.5 878.2L1450.3 869.8ZM1442.4 957.2h3.6v3.6h-3.6zM909.3 868.7h4.2v4.2h-4.2zM932.3 1038.2h2.2v2.2h-2.2zM913.4 903.9h3.6v3.6h-3.6zM1401 1169.5h2.8v2.8h-2.8zM894.5 864.9h2.2v2.2h-2.2zM910.6 844L907.4 840.6L910.9 837.3L914.8 840.9ZM1153.5 1269.7h3.2v3.2h-3.2zM1462.9 1014.2h4.2v4.2h-4.2zM919.1 636.2h2.2v2.2h-2.2zM1434.6 1116.7h2.8v2.8h-2.8zM917.4 812.9h2.6v2.6h-2.6zM906.1 758.3h2.2v2.2h-2.2zM1501.8 603.4L1504.1 609.6L1496.9 607.6ZM1039 1211.9h2.6v2.6h-2.6zM920.7 733h4.2v4.2h-4.2zM901.1 589.8h2.8v2.8h-2.8zM1458.5 903.6h2.8v2.8h-2.8zM1459.4 992.2h2.2v2.2h-2.2zM1341.6 1220.2h2.2v2.2h-2.2zM919.5 879.1L927.8 883.2L919.3 887.7ZM1170 1250.9h3.6v3.6h-3.6zM888.1 686.1h2.6v2.6h-2.6zM907.6 884.4h4.2v4.2h-4.2zM897.8 581.8h2.2v2.2h-2.2zM929.2 1080.8h3.6v3.6h-3.6zM890.8 764.7h3.6v3.6h-3.6zM1149.5 1284.8L1155.7 1283.5L1156.7 1289.2L1150.7 1290.4ZM1142.9 1274h2.6v2.6h-2.6zM1609.2 609h4.2v4.2h-4.2zM1285.5 1232.9h3.6v3.6h-3.6zM1164.7 1253.5h2.8v2.8h-2.8zM905.6 986.8h2.2v2.2h-2.2zM1409.5 1161.3h2.6v2.6h-2.6zM1181.1 1284.5L1181 1277.2L1186.5 1280.8ZM885.8 609.3h2.8v2.8h-2.8zM946.7 1138.2h2.8v2.8h-2.8zM1405.3 1142.1h2.6v2.6h-2.6zM1468.9 880.6h2.2v2.2h-2.2zM919.5 666.7h2.6v2.6h-2.6zM894.7 961h2.2v2.2h-2.2zM1149.5 1261.8L1144.9 1255.8L1152.5 1255.1ZM959.4 1117.3h2.6v2.6h-2.6zM1374.1 1184.7h4.2v4.2h-4.2zM903.7 797h3.2v3.2h-3.2zM1471.1 735.5h3.6v3.6h-3.6zM895.5 972h3.6v3.6h-3.6zM1433.4 991.6h2.8v2.8h-2.8zM1277 1290.6L1280.2 1286.9L1284.3 1290.3L1280.5 1294.1ZM1130.3 1256h3.2v3.2h-3.2zM918.5 1016.9h2.2v2.2h-2.2zM1063.7 1272.8h4.2v4.2h-4.2zM893.8 551.1h4.2v4.2h-4.2zM1470.6 859.2h2.8v2.8h-2.8zM1099.9 1247h3.6v3.6h-3.6zM1476.2 899.3L1469 899.3L1469.4 892.4L1476.1 892.2ZM1444 708.7h2.6v2.6h-2.6zM1470.1 692.7h4.2v4.2h-4.2zM1436.5 954.6h2.6v2.6h-2.6zM1363.5 1177.4h4.2v4.2h-4.2zM1069.3 1253.7h3.6v3.6h-3.6zM1210.5 1271.5h3.2v3.2h-3.2zM1195.8 1256.5L1205 1255L1201.6 1262.5ZM902.9 920.5h2.2v2.2h-2.2zM1463.2 634.8h3.6v3.6h-3.6zM914.6 740h3.2v3.2h-3.2zM884 557.8h2.8v2.8h-2.8zM1247.5 1286.9h3.6v3.6h-3.6zM912.1 990.9h2.8v2.8h-2.8zM1072 1254.2L1078 1250.5L1080.6 1256.2L1076 1259.9ZM935.4 1081.7h4.2v4.2h-4.2zM912.3 833.5h2.6v2.6h-2.6zM1466.6 719.5h3.6v3.6h-3.6zM1449.3 1017.1h4.2v4.2h-4.2zM1267.6 1273h3.6v3.6h-3.6zM1464.9 642.3h2.6v2.6h-2.6zM925 1130.9L924.3 1123.3L930.7 1126.6ZM967.4 1191.3h3.2v3.2h-3.2zM948.9 1126.6h2.8v2.8h-2.8zM1232.4 1261.6h2.8v2.8h-2.8zM903.1 1052.3h4.2v4.2h-4.2zM1450.1 785h2.8v2.8h-2.8zM1394.4 1139.6h2.6v2.6h-2.6zM1330.5 1208.9L1336 1206.7L1335.3 1213.7ZM1631.2 583.8h2.8v2.8h-2.8zM1408.4 1147.2h2.2v2.2h-2.2zM1563.1 608.9h3.6v3.6h-3.6zM926.4 1113.7h2.8v2.8h-2.8zM1447.9 797.2h3.2v3.2h-3.2zM895.9 531.9h2.8v2.8h-2.8zM918.1 938L922.9 934L923.5 940.5ZM1068.2 1279.6h2.8v2.8h-2.8zM1195 1285.1h2.2v2.2h-2.2zM981.8 1199.4h3.6v3.6h-3.6zM1236.8 1254.1h4.2v4.2h-4.2zM1366.9 1201h2.6v2.6h-2.6zM1140.7 1251.2h2.8v2.8h-2.8zM1438.9 785.7L1446.3 784.5L1447 791.8L1439.6 793.9ZM911.1 931.8h2.8v2.8h-2.8zM1174 1270.5h4.2v4.2h-4.2zM1322 1236.8h2.6v2.6h-2.6zM1580.3 599.7h2.6v2.6h-2.6zM1402.9 1176.8h3.6v3.6h-3.6zM904.9 1062.1h4.2v4.2h-4.2zM1006.7 1225.5L1002.6 1219.4L1009.6 1219.3ZM899.8 805.6h2.8v2.8h-2.8zM1090.9 1253.6h2.6v2.6h-2.6zM1267.2 1254.3h3.2v3.2h-3.2zM1475.8 671.3h3.6v3.6h-3.6zM1250 1274.4h3.2v3.2h-3.2zM1457.4 943.4h2.8v2.8h-2.8zM1016.7 1219.3L1019.8 1210.5L1026 1217.6ZM1453.3 839.6h3.2v3.2h-3.2zM1070.4 1241.2h3.2v3.2h-3.2zM904.4 694.2h4.2v4.2h-4.2zM1045.2 1246.4h4.2v4.2h-4.2zM1464.7 1024.7h2.2v2.2h-2.2zM1175.9 1284.1h3.2v3.2h-3.2zM1452.4 1093.3L1444.8 1090.5L1450.8 1084.2ZM1343.6 1198.4h3.2v3.2h-3.2zM1112.7 1275h3.2v3.2h-3.2zM903.6 1029.3h2.6v2.6h-2.6zM892.6 819.3h3.2v3.2h-3.2zM912.8 678.5h2.2v2.2h-2.2zM895.6 842h2.6v2.6h-2.6zM956.7 1164.6L954 1158.8L960.5 1158.7ZM1472.6 778.5h2.2v2.2h-2.2zM1647.6 582.2h2.8v2.8h-2.8zM993 1168.8h4.2v4.2h-4.2zM910.3 1024.1h3.6v3.6h-3.6zM1446.3 845.5h4.2v4.2h-4.2zM1295.8 1226.9h4.2v4.2h-4.2zM918.1 913.4L923.6 917.3L918 920.8ZM912.1 577.4h2.2v2.2h-2.2zM914.2 889.2h2.8v2.8h-2.8zM904.3 1043.3h2.6v2.6h-2.6zM900.3 560.5h2.8v2.8h-2.8zM1089.6 1235.8h2.2v2.2h-2.2zM1506 594h3.2v3.2h-3.2zM1462.8 948.5L1469.5 947.7L1471.2 953.2L1464.3 955.6ZM1371.1 1179.3h2.2v2.2h-2.2zM1144.5 1266.5h2.6v2.6h-2.6zM895.9 735.3h2.8v2.8h-2.8zM927.2 997h2.2v2.2h-2.2zM915.6 975.2h2.8v2.8h-2.8zM930.9 1052h2.6v2.6h-2.6zM915.6 1102.6L921.7 1104.8L916.4 1108.9ZM1441.3 893h3.2v3.2h-3.2zM1245.1 1249.6h2.6v2.6h-2.6zM901.8 603.8h2.6v2.6h-2.6zM1455.1 971.3h4.2v4.2h-4.2zM1076 1280.6h2.8v2.8h-2.8zM1442.3 937.6h2.8v2.8h-2.8zM1500.1 631.1L1497.2 636.9L1492.8 632.1ZM1097.3 1280h4.2v4.2h-4.2zM889.2 733.3h4.2v4.2h-4.2zM912.1 1090.1h4.2v4.2h-4.2zM1002.9 1193.9h3.2v3.2h-3.2zM920.4 1038.1h2.8v2.8h-2.8zM1444.4 688.6h4.2v4.2h-4.2zM886.3 633L893.3 630.9L891.1 637.3ZM1496.4 596.6h2.8v2.8h-2.8zM1077.4 1245h4.2v4.2h-4.2zM1462.5 823.8h2.2v2.2h-2.2zM917.6 874.6h3.6v3.6h-3.6zM894.6 599.2h2.8v2.8h-2.8zM1443.8 869.8h2.6v2.6h-2.6zM1463.7 996.9L1470.1 996.6L1466.9 1002.1ZM910.5 938.6h4.2v4.2h-4.2zM1549.2 592.8h2.8v2.8h-2.8zM930.2 1093.2h2.2v2.2h-2.2zM928.6 989.2h2.6v2.6h-2.6zM894.8 575.6h3.6v3.6h-3.6zM1450.4 682.9h3.2v3.2h-3.2zM1104.1 1288.8L1100.3 1293.4L1095.3 1290.1L1099.1 1284.6ZM948 1157.8h3.2v3.2h-3.2zM914.8 786.9h2.6v2.6h-2.6zM1366.6 1210.7h3.6v3.6h-3.6zM999 1199.3h2.8v2.8h-2.8zM1339.7 1211h3.6v3.6h-3.6zM1470.2 909.1h2.8v2.8h-2.8zM1476.3 605.4L1480.8 610.2L1473.5 611.8ZM1463.2 833.6h4.2v4.2h-4.2zM1115.1 1284.4h4.2v4.2h-4.2zM1463.6 622h3.6v3.6h-3.6zM1165.5 1279.1h3.2v3.2h-3.2zM1176.8 1260.7h2.2v2.2h-2.2zM894.6 793.6h4.2v4.2h-4.2zM1286.6 1275.1L1280.6 1281.5L1278 1272.4ZM1464.8 677.2h3.2v3.2h-3.2zM1454.5 649.5h3.2v3.2h-3.2zM1060.4 1226.1h3.2v3.2h-3.2zM918.2 823.8h3.6v3.6h-3.6zM972.2 1178.7h3.6v3.6h-3.6zM1439.7 1024.5h3.6v3.6h-3.6zM1040 1242.1L1041 1234.3L1046.7 1239.6ZM992.3 1200.9h3.2v3.2h-3.2zM1453 858.9h2.8v2.8h-2.8zM898.5 650.1h2.6v2.6h-2.6zM963.9 1185.8h4.2v4.2h-4.2zM1429.4 1124.9h3.6v3.6h-3.6zM902.5 688.8h4.2v4.2h-4.2zM922 1027.8L929.3 1028.8L924.9 1034ZM1342.9 1236h3.6v3.6h-3.6zM1457 956.5h2.8v2.8h-2.8zM1472.8 661.4h2.6v2.6h-2.6zM961.9 1179.5h2.8v2.8h-2.8zM1380.1 1191.5h2.2v2.2h-2.2zM1452.6 1045.8h2.8v2.8h-2.8zM1346.8 1232.1L1345.3 1226.5L1351 1224L1353.3 1230.7ZM1458.8 843.3h2.8v2.8h-2.8zM1470.6 729.6h2.6v2.6h-2.6zM1470 866.3h3.2v3.2h-3.2zM1510.1 599.3h3.6v3.6h-3.6zM930.7 1060h2.6v2.6h-2.6zM1369 1223.3h2.2v2.2h-2.2zM967.9 1156.4L959.7 1154.5L965.1 1148.2ZM1389.6 1165.8h2.2v2.2h-2.2zM1183.2 1266.1h3.6v3.6h-3.6zM1046 1229.4h4.2v4.2h-4.2zM1194.4 1263.8h2.8v2.8h-2.8zM1476.3 613h2.8v2.8h-2.8zM1438.2 1080.1h4.2v4.2h-4.2zM904.5 700.7L909.9 698.7L913.1 704.1L906.9 707.3ZM904.3 728.4h3.6v3.6h-3.6zM1142 1280.1h3.2v3.2h-3.2zM1324.6 1247.1h2.8v2.8h-2.8zM1293.9 1238.5h3.6v3.6h-3.6zM1456.7 825.6h2.6v2.6h-2.6zM1598.9 587.3h3.2v3.2h-3.2zM1074.7 1263.5L1074.5 1269.6L1067.6 1269.9L1068.9 1262.7ZM1467.8 800.9h2.8v2.8h-2.8zM919.3 959h4.2v4.2h-4.2zM1465.5 988.7h3.6v3.6h-3.6zM1227.6 1269.3h2.6v2.6h-2.6zM1468.6 750.7h4.2v4.2h-4.2zM1407.6 1170.2h2.2v2.2h-2.2zM1344.5 1204.3L1349.7 1210.6L1342.9 1213.1ZM920.8 910.3h2.8v2.8h-2.8zM1465.8 770.9h3.2v3.2h-3.2zM1233.8 1247.4h4.2v4.2h-4.2zM1463.7 711.1h3.2v3.2h-3.2zM1230 1252.1h2.2v2.2h-2.2zM1130.5 1267h2.2v2.2h-2.2zM1442.5 817.1L1448 821.7L1443.7 826.5L1438.7 822.9ZM1624.4 591.6h4.2v4.2h-4.2zM985.2 1211.4h2.6v2.6h-2.6zM896.3 692.8h4.2v4.2h-4.2zM885.9 651.7h4.2v4.2h-4.2zM918.9 1076.5h4.2v4.2h-4.2zM997.3 1187h4.2v4.2h-4.2zM1106.5 1261.9L1100 1263.7L1101.7 1258ZM1436.8 996.4h2.8v2.8h-2.8zM888.5 744.5h3.6v3.6h-3.6zM905.8 551.9h2.6v2.6h-2.6zM1405.2 1155h2.6v2.6h-2.6zM910.7 589.9h2.2v2.2h-2.2zM1449 719.9h2.8v2.8h-2.8zM1583.2 604.9L1580.6 610.1L1574.6 608.4L1577.3 602ZM1459.4 787.1h2.6v2.6h-2.6zM1015.2 1202.4h2.2v2.2h-2.2zM1161 1284.2h2.8v2.8h-2.8zM982.2 1151.9h2.8v2.8h-2.8zM1470.8 806.9h2.8v2.8h-2.8zM1533.5 608.9h3.2v3.2h-3.2zM920.7 861.8L927.1 863.2L926.3 870.8L919.4 869.2ZM925.5 844.6h2.8v2.8h-2.8zM1497.5 618h4.2v4.2h-4.2zM1456.9 676.9h2.2v2.2h-2.2zM894.7 774.6h3.6v3.6h-3.6zM907.1 854.8h3.2v3.2h-3.2zM1235 1279.6h3.6v3.6h-3.6zM1633.8 595.5L1637.1 599.8L1632.7 603.8L1628.4 598.5ZM899.6 516.1h2.8v2.8h-2.8zM1446.6 666.5h4.2v4.2h-4.2zM1203.9 1271.7h2.2v2.2h-2.2zM927.6 1068.4h3.6v3.6h-3.6zM895.9 701.1h4.2v4.2h-4.2zM1443.8 1006.6h2.8v2.8h-2.8zM1285.5 1275.1L1290.1 1276.9L1289.6 1281.4L1284.7 1280.4ZM1255.6 1279.9h2.2v2.2h-2.2zM915.5 601.2h2.8v2.8h-2.8zM986 1186.1h2.2v2.2h-2.2zM926.9 971.6h2.8v2.8h-2.8zM1082.4 1235h2.6v2.6h-2.6zM1433.3 1018.2h3.6v3.6h-3.6zM1061.5 1221.8L1056.4 1229.3L1052.6 1221.1ZM909.8 981.9h4.2v4.2h-4.2zM1416.5 1164.9h2.6v2.6h-2.6zM897.1 813h3.6v3.6h-3.6zM1566.8 603.2h4.2v4.2h-4.2zM1460.1 811.6h2.8v2.8h-2.8zM908.5 767.2h2.8v2.8h-2.8zM1345.5 1221.2L1346 1215L1351.9 1216.1L1350.7 1221.9ZM1472.3 645.9h2.8v2.8h-2.8zM990.3 1191.9h2.2v2.2h-2.2zM974.4 1198.2h4.2v4.2h-4.2zM1544 597.6h2.6v2.6h-2.6zM1338.7 1244.1h4.2v4.2h-4.2zM901.5 838.4h4.2v4.2h-4.2zM904.7 681.9L901.4 677.2L907.8 677.1ZM1168.7 1288.6h3.6v3.6h-3.6zM1048.6 1223.4h3.6v3.6h-3.6zM1210.6 1250.9h2.6v2.6h-2.6zM1046.3 1240.7h3.6v3.6h-3.6zM1216.5 1287.9h4.2v4.2h-4.2zM912.2 774.5h2.8v2.8h-2.8zM1467.5 694.4L1465.9 685.8L1473.2 688.3Z"/>
</g>
<g stroke="#000" fill="none" stroke-linejoin="round" stroke-linecap="butt">
<path d="M884 512 L897.1 1013.9 L897.4 1021.5 L897.9 1029.1 L898.6 1036.7 L899.6 1044.2 L900.7 1051.8 L902 1059.3 L903.5 1066.7 L905.2 1074.1 L907.1 1081.5 L909.2 1088.8 L911.5 1096.1 L914 1103.3 L916.7 1110.4 L919.5 1117.5 L922.6 1124.4 L925.8 1131.3 L929.2 1138.1 L932.8 1144.9 L936.6 1151.5 L940.5 1158 L944.7 1164.4 L948.9 1170.7 L953.4 1176.9 L958 1182.9 L962.8 1188.8 L967.7 1194.6 L972.8 1200.3 L978 1205.8 L983.4 1211.2 L988.9 1216.5 L994.6 1221.6 L1000.3 1226.5 L1006.3 1231.3 L1012.3 1236 L1018.5 1240.4 L1024.7 1244.8 L1031.1 1248.9 L1037.6 1252.9 L1044.2 1256.7 L1050.9 1260.3 L1050.9 1260.3 L1053.3 1261.7 L1055.4 1263.3 L1057.4 1265.2 L1059.2 1267.2 L1060.7 1269.5 L1062 1271.9 L1063 1274.4 L1063.7 1277 L1064.2 1279.7 L1064.3 1282.4 L1064.3 1293 L1303.7 1293 L1303.7 1282.4 L1303.8 1279.7 L1304.3 1277 L1305 1274.4 L1306 1271.9 L1307.3 1269.5 L1308.8 1267.2 L1310.6 1265.2 L1312.6 1263.3 L1314.7 1261.7 L1317.1 1260.3 L1317.1 1260.3 L1323.8 1256.7 L1330.4 1252.9 L1336.9 1248.9 L1343.3 1244.8 L1349.5 1240.4 L1355.7 1236 L1361.7 1231.3 L1367.7 1226.5 L1373.4 1221.6 L1379.1 1216.5 L1384.6 1211.2 L1390 1205.8 L1395.2 1200.3 L1400.3 1194.6 L1405.2 1188.8 L1410 1182.9 L1414.6 1176.9 L1419.1 1170.7 L1423.3 1164.4 L1427.5 1158 L1431.4 1151.5 L1435.2 1144.9 L1438.8 1138.1 L1442.2 1131.3 L1445.4 1124.4 L1448.5 1117.5 L1451.3 1110.4 L1454 1103.3 L1456.5 1096.1 L1458.8 1088.8 L1460.9 1081.5 L1462.8 1074.1 L1464.5 1066.7 L1466 1059.3 L1467.3 1051.8 L1468.4 1044.2 L1469.4 1036.7 L1470.1 1029.1 L1470.6 1021.5 L1470.9 1013.9 L1479.8 672.9 L1480 668.5 L1480.6 664.2 L1481.6 659.9 L1482.9 655.7 L1484.6 651.7 L1486.7 647.8 L1489.2 644.2 L1491.9 640.7 L1494.9 637.6 L1498.2 634.7 L1501.8 632.1 L1505.6 629.9 L1509.5 628 L1513.6 626.5 L1517.8 625.3 L1522.2 624.5 L1650.6 607.4" stroke-width="7.6"/>
<path d="M916 512 L934.2 1011.9 L934.7 1021.5 L935.6 1031 L936.8 1040.5 L938.5 1050 L940.4 1059.4 L942.8 1068.7 L945.5 1077.9 L948.5 1087 L951.9 1096 L955.7 1104.8 L959.7 1113.5 L964.1 1122 L968.9 1130.4 L973.9 1138.5 L979.3 1146.5 L984.9 1154.2 L990.9 1161.8 L997.1 1169.1 L1003.6 1176.1 L1010.4 1182.9 L1017.4 1189.4 L1024.7 1195.7 L1032.2 1201.6 L1039.9 1207.3 L1047.9 1212.7 L1056 1217.8 L1064.4 1222.5 L1072.9 1227 L1081.6 1231 L1090.4 1234.8 L1099.4 1238.2 L1108.4 1241.3 L1117.6 1244 L1126.9 1246.4 L1136.3 1248.4 L1145.8 1250.1 L1155.3 1251.3 L1164.8 1252.3 L1174.4 1252.8 L1184 1253 L1193.6 1252.8 L1203.2 1252.3 L1212.7 1251.3 L1222.2 1250.1 L1231.7 1248.4 L1241.1 1246.4 L1250.4 1244 L1259.6 1241.3 L1268.6 1238.2 L1277.6 1234.8 L1286.4 1231 L1295.1 1227 L1303.6 1222.5 L1312 1217.8 L1320.1 1212.7 L1328.1 1207.3 L1335.8 1201.6 L1343.3 1195.7 L1350.6 1189.4 L1357.6 1182.9 L1364.4 1176.1 L1370.9 1169.1 L1377.1 1161.8 L1383.1 1154.2 L1388.7 1146.5 L1394.1 1138.5 L1399.1 1130.4 L1403.9 1122 L1408.3 1113.5 L1412.3 1104.8 L1416.1 1096 L1419.5 1087 L1422.5 1077.9 L1425.2 1068.7 L1427.6 1059.4 L1429.5 1050 L1431.2 1040.5 L1432.4 1031 L1433.3 1021.5 L1433.8 1011.9 L1452 512" stroke-width="7.6"/>
<path d="M1446.5 669 L1446.7 663.3 L1447.3 657.7 L1448.4 652.1 L1449.8 646.6 L1451.6 641.2 L1453.9 635.9 L1456.4 630.9 L1459.4 626 L1462.7 621.4 L1466.3 617 L1470.3 612.9 L1474.5 609.1 L1479 605.6 L1483.8 602.5 L1488.7 599.7 L1493.9 597.3 L1499.2 595.2 L1504.6 593.6 L1510.2 592.3 L1515.8 591.5 L1650.6 576.3" stroke-width="7.6"/>
<line x1="880.5" y1="512" x2="1654.1" y2="512" stroke-width="7.6" />
<line x1="1650.6" y1="512" x2="1650.6" y2="609.6" stroke-width="7.6" />
<line x1="1060.8" y1="1293" x2="1307.2" y2="1293" stroke-width="7.6" />
<line x1="1484" y1="516" x2="1479.6" y2="648" stroke-width="1.6" stroke-dasharray="46 7"/>
<path d="M1184 492.3V520M1184 1288V1313" stroke-width="1.8"/>
<path d="M1184 517V1290" stroke-width="1.8" stroke-dasharray="91 13 18.5 13"/>
<line x1="884" y1="513" x2="884" y2="372.9" stroke-width="3" />
<line x1="1484.2" y1="513" x2="1484.2" y2="372.9" stroke-width="3" />
<line x1="884" y1="390.6" x2="1484.2" y2="390.6" stroke-width="3" />
<line x1="1650.7" y1="513" x2="1650.7" y2="372.9" stroke-width="3" />
<line x1="1484.2" y1="390.6" x2="1650.7" y2="390.6" stroke-width="3" />
<line x1="915.6" y1="513" x2="915.6" y2="443" stroke-width="3" />
<line x1="735.7" y1="461.8" x2="985.2" y2="461.8" stroke-width="3" />
<line x1="808" y1="512" x2="881" y2="512" stroke-width="3" />
<line x1="809" y1="1293" x2="1062" y2="1293" stroke-width="3" />
<line x1="827.6" y1="512" x2="827.6" y2="1293" stroke-width="3" />
<line x1="880" y1="1255" x2="1184" y2="1255" stroke-width="3" />
<line x1="898.6" y1="1106" x2="898.6" y2="1363" stroke-width="3" />
<line x1="1064.3" y1="1293" x2="1064.3" y2="1416" stroke-width="3" />
<line x1="1303.7" y1="1293" x2="1303.7" y2="1416" stroke-width="3" />
<line x1="1064.3" y1="1398" x2="1303.7" y2="1398" stroke-width="3" />
<line x1="1654" y1="512" x2="1749.5" y2="512" stroke-width="3" />
<line x1="1654" y1="607.4" x2="1749.5" y2="607.4" stroke-width="3" />
<line x1="1731.2" y1="512" x2="1731.2" y2="607.4" stroke-width="3" />
<line x1="1521.8" y1="514" x2="1527.9" y2="621" stroke-width="3" />
<line x1="1499.5" y1="640.6" x2="1618.4" y2="772.8" stroke-width="3" />
</g>
<polygon points="884,390.6 916.5,384.6 916.5,396.6" fill="#000" stroke="none"/>
<polygon points="1484.2,390.6 1451.7,396.6 1451.7,384.6" fill="#000" stroke="none"/>
<polygon points="1484.2,390.6 1516.7,384.6 1516.7,396.6" fill="#000" stroke="none"/>
<polygon points="1650.7,390.6 1618.2,396.6 1618.2,384.6" fill="#000" stroke="none"/>
<polygon points="884,461.8 851.5,467.8 851.5,455.8" fill="#000" stroke="none"/>
<polygon points="915.6,461.8 948.1,455.8 948.1,467.8" fill="#000" stroke="none"/>
<polygon points="827.6,513 833.6,545.5 821.6,545.5" fill="#000" stroke="none"/>
<polygon points="827.6,1292 821.6,1259.5 833.6,1259.5" fill="#000" stroke="none"/>
<polygon points="898.6,1255 892.6,1222.5 904.6,1222.5" fill="#000" stroke="none"/>
<polygon points="898.6,1293 904.6,1325.5 892.6,1325.5" fill="#000" stroke="none"/>
<polygon points="1064.3,1398 1096.8,1392 1096.8,1404" fill="#000" stroke="none"/>
<polygon points="1303.7,1398 1271.2,1404 1271.2,1392" fill="#000" stroke="none"/>
<polygon points="1731.2,513 1737.2,545.5 1725.2,545.5" fill="#000" stroke="none"/>
<polygon points="1731.2,606.4 1725.2,573.9 1737.2,573.9" fill="#000" stroke="none"/>
<polygon points="1521.8,515.5 1529.7,547.6 1517.7,548.3" fill="#000" stroke="none"/>
<polygon points="1527.9,621 1520,588.9 1532,588.2" fill="#000" stroke="none"/>
<polygon points="1499.5,640.6 1525.7,660.7 1516.8,668.8" fill="#000" stroke="none"/>
<text x="1125.5" y="380.5" font-size="51" font-family='"Liberation Sans", sans-serif' text-anchor="start" textLength="121" lengthAdjust="spacing" stroke="#fff" stroke-width="1.0">ø615</text>
<text x="1520.5" y="380.5" font-size="51" font-family='"Liberation Sans", sans-serif' text-anchor="start" textLength="91" lengthAdjust="spacing" stroke="#fff" stroke-width="1.0">170</text>
<text x="743.5" y="451" font-size="51" font-family='"Liberation Sans", sans-serif' text-anchor="start" textLength="63" lengthAdjust="spacing" stroke="#fff" stroke-width="1.0">33</text>
<text x="818" y="932" font-size="51" font-family='"Liberation Sans", sans-serif' text-anchor="start" transform="rotate(-90 818 932)" textLength="98" lengthAdjust="spacing" stroke="#fff" stroke-width="1.0">800</text>
<text x="887.7" y="1178" font-size="51" font-family='"Liberation Sans", sans-serif' text-anchor="start" transform="rotate(-90 887.7 1178)" textLength="63" lengthAdjust="spacing" stroke="#fff" stroke-width="1.0">40</text>
<text x="1120.5" y="1389" font-size="51" font-family='"Liberation Sans", sans-serif' text-anchor="start" textLength="127" lengthAdjust="spacing" stroke="#fff" stroke-width="1.0">ø245</text>
<text x="1721" y="588.5" font-size="51" font-family='"Liberation Sans", sans-serif' text-anchor="start" transform="rotate(-90 1721 588.5)" textLength="62" lengthAdjust="spacing" stroke="#fff" stroke-width="1.0">98</text>
<text x="1534.5" y="528.5" font-size="51" font-family='"Liberation Sans", sans-serif' text-anchor="start" transform="rotate(90 1534.5 528.5)" stroke="#fff" stroke-width="1.0">8<tspan font-size="37" dy="-10" dx="3" stroke="#000" stroke-width="0.9">°</tspan></text>
<text x="1554" y="684.5" font-size="51" font-family='"Liberation Sans", sans-serif' text-anchor="start" transform="rotate(47.9 1554 684.5)" textLength="100" lengthAdjust="spacing" stroke="#fff" stroke-width="1.0">R50</text>
<text x="1209.5" y="640" font-size="30.3" font-family='"Liberation Serif", "Noto Serif CJK SC", serif' text-anchor="start" textLength="91" lengthAdjust="spacing" >满容积</text>
<text x="1209.5" y="687.5" font-size="30.3" font-family='"Liberation Serif", "Noto Serif CJK SC", serif' text-anchor="start" textLength="91" lengthAdjust="spacing" >铝容量</text>
<text font-size="35" font-family='"Liberation Sans", sans-serif' stroke="#000" stroke-width="0.8"><tspan x="1303" y="640.8">:132</tspan> <tspan x="1388.5" y="640.8">L</tspan></text>
<text font-size="35" font-family='"Liberation Sans", sans-serif' stroke="#000" stroke-width="0.8"><tspan x="1303" y="689.3">:310</tspan> <tspan x="1389" y="689.3">kg</tspan></text>
<g stroke="#000" fill="none" stroke-linecap="butt">
<path d="M1812.8 512 A88.2 95.7 0 0 0 1989.2 512" stroke-width="7.6"/>
<path d="M1844.5 512 A56.5 64.3 0 0 0 1957.5 512" stroke-width="7.6"/>
<line x1="1809.3" y1="512" x2="1848" y2="512" stroke-width="7.6" />
<line x1="1954" y1="512" x2="1992.7" y2="512" stroke-width="7.6" />
<line x1="1901" y1="496" x2="1901" y2="623.4" stroke-width="1.8" />
<path d="M1848 512H1875.4M1891.7 512H1909.4M1925.7 512H1954.6" stroke-width="1.8"/>
<line x1="1812.8" y1="512" x2="1812.8" y2="421.9" stroke-width="3" />
<line x1="1988.9" y1="512" x2="1988.9" y2="421.9" stroke-width="3" />
<line x1="1812.8" y1="439.9" x2="1988.9" y2="439.9" stroke-width="3" />
<line x1="1797.5" y1="512" x2="1807" y2="512" stroke-width="3" />
<line x1="1995" y1="512" x2="2077.5" y2="512" stroke-width="3" />
<line x1="1915" y1="607.2" x2="2077.5" y2="607.2" stroke-width="3" />
<line x1="2058" y1="512" x2="2058" y2="607.2" stroke-width="3" />
</g>
<polygon points="1812.8,439.9 1845.3,433.9 1845.3,445.9" fill="#000" stroke="none"/>
<polygon points="1988.9,439.9 1956.4,445.9 1956.4,433.9" fill="#000" stroke="none"/>
<polygon points="2058,513 2064,545.5 2052,545.5" fill="#000" stroke="none"/>
<polygon points="2058,606.2 2052,573.7 2064,573.7" fill="#000" stroke="none"/>
<text x="1854" y="430" font-size="51" font-family='"Liberation Sans", sans-serif' text-anchor="start" textLength="91" lengthAdjust="spacing" stroke="#fff" stroke-width="1.0">180</text>
<text x="2047.5" y="588" font-size="51" font-family='"Liberation Sans", sans-serif' text-anchor="start" transform="rotate(-90 2047.5 588)" textLength="61" lengthAdjust="spacing" stroke="#fff" stroke-width="1.0">98</text>
<g stroke="#000" fill="none" stroke-linejoin="round" stroke-linecap="butt">
<circle cx="1183.7" cy="1803.7" r="269" stroke-width="7.6"/>
<path d="M1651.3 1715.9 L1495 1702.2 A49.0 49.0 0 0 1 1455.5 1674.3 A301.0 301.0 0 1 0 1455.5 1933.1 A49.0 49.0 0 0 1 1495 1905.2 L1651.3 1891.5 Z" stroke-width="7.6"/>
<path d="M1647.8 1748.7 L1492.2 1735.1 A82.0 82.0 0 0 1 1426.6 1688" stroke-width="7.6"/>
<path d="M1647.8 1858.7 L1492.2 1872.3 A82.0 82.0 0 0 0 1426.6 1919.4" stroke-width="7.6"/>
<path d="M1183.7 1482.4V2126.5" stroke-width="1.8" stroke-dasharray="89 15.5 19 14.7"/>
<path d="M862.5 1803.7H880M1655 1803.7H1671.5" stroke-width="1.8"/>
<path d="M878 1803.7H1658" stroke-width="1.8" stroke-dasharray="90 13.5 21 13.5"/>
<line x1="1655" y1="1715.9" x2="1760.7" y2="1715.9" stroke-width="3" />
<line x1="1655" y1="1891.5" x2="1760.7" y2="1891.5" stroke-width="3" />
<line x1="1742.1" y1="1715.9" x2="1742.1" y2="1891.5" stroke-width="3" />
<path d="M1508.8 1705 A1154 1154 0 0 0 1508.8 1903" stroke-width="3.0"/>
<line x1="1575.1" y1="1543.4" x2="1474.2" y2="1690.2" stroke-width="3" />
</g>
<polygon points="1742.1,1716.9 1748.1,1749.4 1736.1,1749.4" fill="#000" stroke="none"/>
<polygon points="1742.1,1890.5 1736.1,1858 1748.1,1858" fill="#000" stroke="none"/>
<polygon points="1509,1705.5 1513.6,1738.2 1501.6,1737.7" fill="#000" stroke="none"/>
<polygon points="1509,1902.5 1501.6,1870.3 1513.6,1869.8" fill="#000" stroke="none"/>
<polygon points="1474.2,1690.2 1487.7,1660 1497.6,1666.8" fill="#000" stroke="none"/>
<text x="1732" y="1850" font-size="51" font-family='"Liberation Sans", sans-serif' text-anchor="start" transform="rotate(-90 1732 1850)" textLength="91" lengthAdjust="spacing" stroke="#fff" stroke-width="1.0">180</text>
<text x="1494.5" y="1805" font-size="51" font-family='"Liberation Sans", sans-serif' text-anchor="start" transform="rotate(-90 1494.5 1805)" stroke="#fff" stroke-width="1.0">10<tspan font-size="37" dy="-10" dx="0.5" stroke="#000" stroke-width="0.9">°</tspan></text>
<text x="1504" y="1626.5" font-size="51" font-family='"Liberation Sans", sans-serif' text-anchor="start" transform="rotate(-55.6 1504 1626.5)" textLength="100" lengthAdjust="spacing" stroke="#fff" stroke-width="1.0">R50</text>
<g stroke="#000" fill="none" stroke-linecap="butt">
<path d="M133.5 2371 V119.4 H3385.5 V2371" stroke-width="3" stroke-linejoin="miter"/>
<path d="M133.5 2369.9 H3385.5" stroke-width="2.4"/>
<path d="M2522 119.4 V1245 H3385.5" stroke-width="4"/>
<line x1="1989.5" y1="1936.7" x2="3385.5" y2="1936.7" stroke-width="3" />
<line x1="1991" y1="1936.7" x2="1991" y2="2369.8" stroke-width="3.4" />
<line x1="1991" y1="2145.6" x2="3385.5" y2="2145.6" stroke-width="3.4" />
<line x1="2366.5" y1="1936.7" x2="2366.5" y2="2369.8" stroke-width="4" />
<line x1="2193.7" y1="2145.6" x2="2193.7" y2="2369.8" stroke-width="4.2" />
<line x1="2680.8" y1="2145.6" x2="2680.8" y2="2369.8" stroke-width="3.6" />
<line x1="1991" y1="2221.6" x2="2680.8" y2="2221.6" stroke-width="4.2" />
<line x1="1991" y1="2296.2" x2="2680.8" y2="2296.2" stroke-width="4.2" />
<line x1="2680.8" y1="2258.5" x2="3385.5" y2="2258.5" stroke-width="3" />
<line x1="2025.7" y1="2087" x2="2328.7" y2="2087" stroke-width="3.5" />
</g>
<text x="201.3" y="205.6" font-size="29.5" font-family='"Liberation Sans", sans-serif' text-anchor="start" textLength="36" lengthAdjust="spacing" stroke="#000" stroke-width="0.9">A4</text>
<text font-size="45.5" font-family='"Liberation Sans", sans-serif' stroke="#fff" stroke-width="0.7"><tspan x="1164.5" y="284" textLength="182" lengthAdjust="spacing">JTBP412</tspan> <tspan x="1374" y="284" textLength="115" lengthAdjust="spacing">H800</tspan></text>
<text x="1495.5" y="282.7" font-size="41.5" font-family='"Liberation Serif", "Noto Serif CJK SC", serif' text-anchor="start" textLength="249" lengthAdjust="spacing" >坩埚产品图纸</text>
<text transform="translate(2443.5 2026.6) scale(0.8699 1)" font-size="41" font-family='"Liberation Mono", monospace' stroke="#fff" stroke-width="0.9">WUXI WONDEY INDUSTRY EQUIPMENT CO., LTD.</text>
<text transform="translate(2020 2195.2) scale(0.8547 1)" font-size="39" font-family='"Liberation Mono", monospace' stroke="#fff" stroke-width="0.9">Design</text>
<text transform="translate(2227 2195.2) scale(0.8547 1)" font-size="39" font-family='"Liberation Mono", monospace' stroke="#fff" stroke-width="0.9">Name</text>
<text transform="translate(2490.5 2195.2) scale(0.8547 1)" font-size="39" font-family='"Liberation Mono", monospace' stroke="#fff" stroke-width="0.9">Date</text>
<text transform="translate(2004.5 2263.4) scale(0.8444 1)" font-size="30" font-family='"Liberation Mono", monospace' stroke="#fff" stroke-width="0.6">Drawn by</text>
<text transform="translate(2211 2263.4) scale(0.8500 1)" font-size="30" font-family='"Liberation Mono", monospace' stroke="#fff" stroke-width="0.6">Kennek Ye</text>
<text transform="translate(2386.5 2263.4) scale(0.8444 1)" font-size="30" font-family='"Liberation Mono", monospace' stroke="#fff" stroke-width="0.6">28th Oct. 2023</text>
<text transform="translate(2009.5 2339) scale(0.8444 1)" font-size="30" font-family='"Liberation Mono", monospace' stroke="#fff" stroke-width="0.6">Approved by</text>
<text transform="translate(2214 2339) scale(0.8500 1)" font-size="30" font-family='"Liberation Mono", monospace' stroke="#fff" stroke-width="0.6">Ken Ye</text>
<text transform="translate(2386.5 2339) scale(0.8444 1)" font-size="30" font-family='"Liberation Mono", monospace' stroke="#fff" stroke-width="0.6">28th Dec. 2023</text>
<text font-size="46.5" font-family='"Liberation Sans", sans-serif' stroke="#fff" stroke-width="0.7"><tspan x="2867.5" y="2219" textLength="187" lengthAdjust="spacing">JTBP412</tspan> <tspan x="3081" y="2219" textLength="119" lengthAdjust="spacing">H800</tspan></text>
<text x="2905.5" y="2329.5" font-size="42.7" font-family='"Liberation Serif", "Noto Serif CJK SC", serif' text-anchor="start" textLength="257" lengthAdjust="spacing" >坩埚产品图纸</text>
<text transform="translate(1584 870.4) scale(0.8472 1)" font-size="30" font-family='"Liberation Mono", monospace' stroke="#fff" stroke-width="0.6">full volume: 132L</text>
<text transform="translate(1584 906.3) scale(0.8472 1)" font-size="30" font-family='"Liberation Mono", monospace' stroke="#fff" stroke-width="0.6">aluminum capacity: 310kg</text>
<text transform="translate(1029.5 2267.4) scale(0.8421 1)" font-size="38" font-family='"Liberation Mono", monospace' stroke="#fff" stroke-width="0.9">crucible material:</text>
<text transform="translate(1029.5 2312.4) scale(0.8421 1)" font-size="38" font-family='"Liberation Mono", monospace' stroke="#fff" stroke-width="0.9">silicon carbide graphite</text>
</svg></body></html>
